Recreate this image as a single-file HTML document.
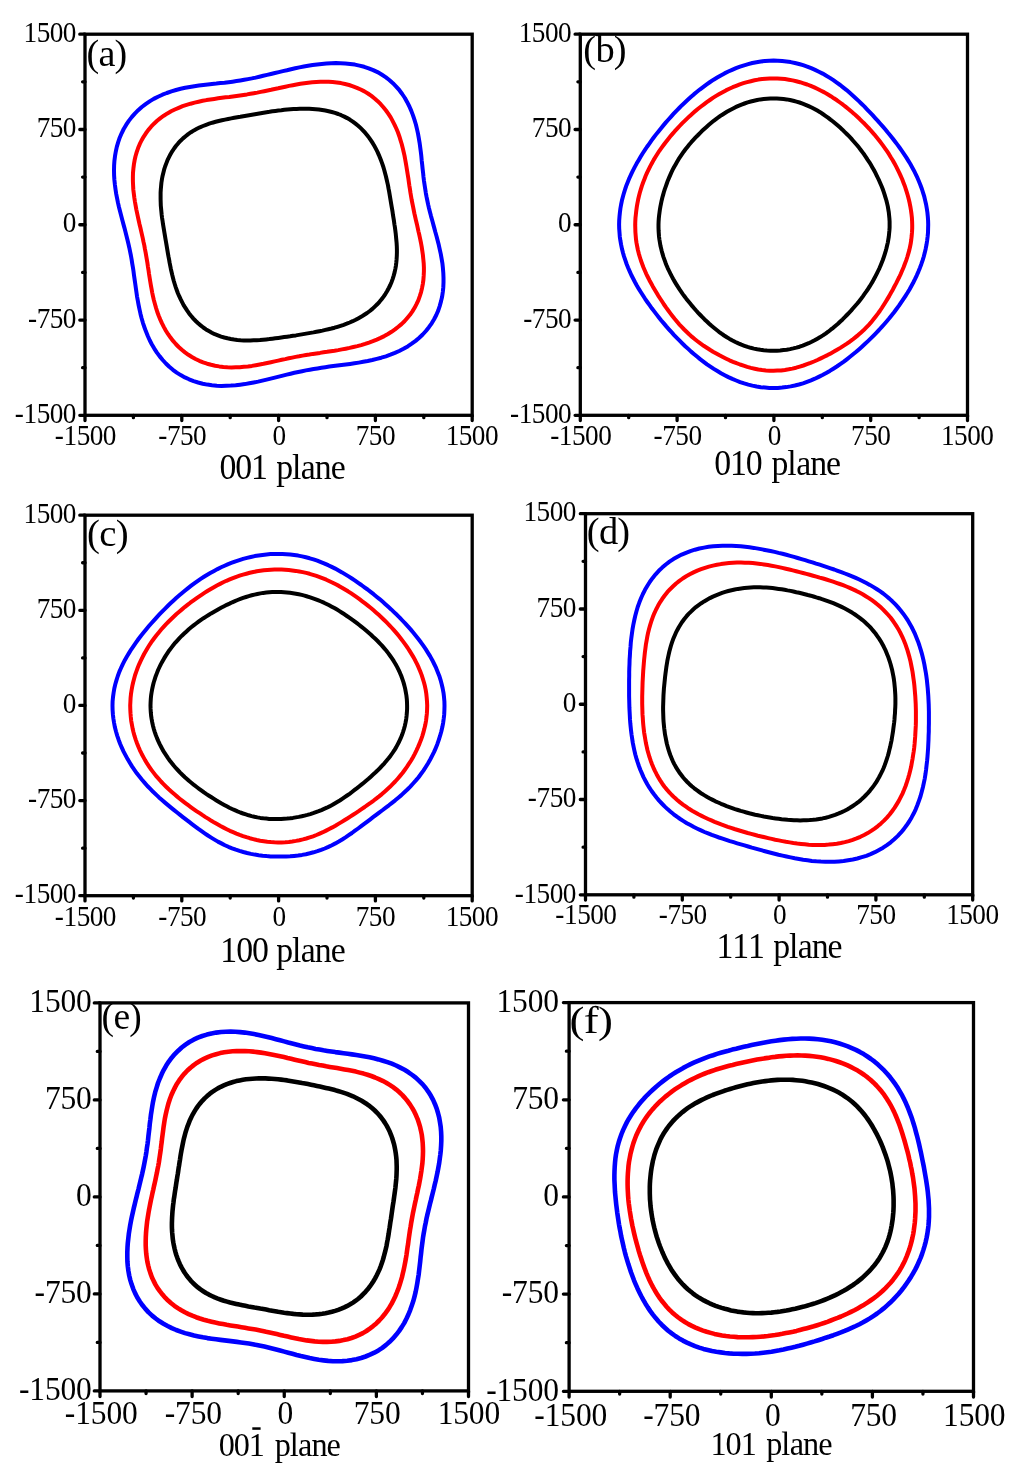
<!DOCTYPE html>
<html><head><meta charset="utf-8"><style>
html,body{margin:0;padding:0;background:#fff;width:1024px;height:1474px;overflow:hidden}
svg{display:block;will-change:transform}
text{font-family:"Liberation Serif",serif;fill:#000}
</style></head><body>
<svg width="1024" height="1474" viewBox="0 0 1024 1474">
<rect width="1024" height="1474" fill="#fff"/>
<path d="M433.2,224.1 L434.3,228.1 L435.4,232.3 L436.6,236.5 L437.7,240.8 L438.8,245.1 L439.8,249.6 L440.8,254.1 L441.6,258.7 L442.4,263.3 L442.9,268.0 L443.3,272.8 L443.5,277.6 L443.5,282.4 L443.3,287.2 L442.8,292.0 L442.1,296.7 L441.0,301.4 L439.7,306.1 L438.2,310.6 L436.3,315.0 L434.1,319.2 L431.7,323.3 L428.9,327.2 L425.9,331.0 L422.7,334.5 L419.3,337.8 L415.6,340.9 L411.7,343.7 L407.7,346.4 L403.5,348.8 L399.2,351.0 L394.9,352.9 L390.4,354.7 L385.9,356.3 L381.3,357.7 L376.8,358.9 L372.3,360.0 L367.7,361.0 L363.2,361.8 L358.8,362.6 L354.4,363.3 L350.1,363.9 L345.8,364.5 L341.6,365.0 L337.4,365.6 L333.3,366.1 L329.3,366.6 L325.3,367.2 L321.4,367.8 L317.5,368.4 L313.6,369.0 L309.8,369.7 L305.9,370.4 L302.1,371.2 L298.3,372.0 L294.4,372.8 L290.6,373.7 L286.7,374.6 L282.8,375.6 L278.8,376.6 L274.8,377.6 L270.7,378.6 L266.6,379.6 L262.4,380.6 L258.1,381.6 L253.7,382.5 L249.3,383.3 L244.8,384.1 L240.2,384.7 L235.6,385.2 L230.9,385.6 L226.2,385.8 L221.5,385.9 L216.8,385.7 L212.0,385.2 L207.3,384.6 L202.7,383.7 L198.1,382.5 L193.6,381.1 L189.1,379.3 L184.9,377.4 L180.7,375.1 L176.7,372.6 L172.9,369.8 L169.3,366.8 L165.9,363.5 L162.7,360.0 L159.7,356.4 L156.9,352.6 L154.3,348.6 L151.9,344.5 L149.7,340.3 L147.8,336.0 L146.0,331.6 L144.4,327.2 L142.9,322.8 L141.6,318.3 L140.5,313.9 L139.5,309.4 L138.6,305.0 L137.8,300.6 L137.0,296.3 L136.4,292.0 L135.8,287.7 L135.2,283.5 L134.6,279.4 L134.0,275.3 L133.5,271.3 L132.9,267.3 L132.2,263.3 L131.6,259.4 L130.9,255.5 L130.1,251.6 L129.3,247.7 L128.4,243.8 L127.5,240.0 L126.5,236.0 L125.5,232.1 L124.5,228.1 L123.4,224.1 L122.3,220.0 L121.2,215.8 L120.1,211.6 L119.0,207.3 L118.0,202.9 L117.1,198.4 L116.2,193.9 L115.5,189.3 L114.9,184.7 L114.4,180.0 L114.1,175.3 L114.0,170.5 L114.1,165.7 L114.4,161.0 L115.0,156.2 L115.8,151.5 L116.8,146.8 L118.2,142.2 L119.7,137.7 L121.6,133.3 L123.7,129.0 L126.1,124.9 L128.8,120.9 L131.7,117.1 L134.8,113.6 L138.2,110.2 L141.8,107.0 L145.6,104.1 L149.6,101.4 L153.7,98.9 L158.0,96.7 L162.4,94.7 L166.8,93.0 L171.4,91.4 L176.0,90.0 L180.6,88.8 L185.2,87.8 L189.8,87.0 L194.3,86.2 L198.8,85.6 L203.3,85.0 L207.7,84.5 L212.0,84.0 L216.3,83.6 L220.4,83.1 L224.5,82.7 L228.6,82.2 L232.5,81.7 L236.5,81.1 L240.3,80.5 L244.2,79.8 L248.0,79.1 L251.8,78.4 L255.6,77.6 L259.4,76.7 L263.2,75.8 L267.1,74.9 L270.9,74.0 L274.9,73.0 L278.8,72.1 L282.8,71.1 L286.9,70.2 L291.0,69.2 L295.2,68.3 L299.4,67.4 L303.8,66.5 L308.1,65.8 L312.6,65.0 L317.1,64.4 L321.7,63.9 L326.4,63.5 L331.1,63.2 L335.8,63.1 L340.6,63.2 L345.3,63.4 L350.1,63.9 L354.9,64.6 L359.5,65.6 L364.2,66.8 L368.7,68.3 L373.2,70.1 L377.5,72.1 L381.6,74.5 L385.6,77.1 L389.3,80.0 L392.9,83.2 L396.2,86.6 L399.4,90.2 L402.2,94.0 L404.9,98.0 L407.2,102.2 L409.4,106.5 L411.3,110.9 L413.0,115.4 L414.5,119.9 L415.9,124.5 L417.0,129.1 L418.0,133.7 L418.8,138.2 L419.6,142.8 L420.2,147.3 L420.8,151.7 L421.3,156.1 L421.7,160.4 L422.2,164.7 L422.6,168.8 L423.1,173.0 L423.5,177.0 L424.0,181.0 L424.6,185.0 L425.2,188.9 L425.8,192.8 L426.5,196.7 L427.3,200.5 L428.1,204.4 L429.0,208.3 L430.0,212.2 L431.0,216.1 L432.1,220.0Z" fill="none" stroke="#0000ff" stroke-width="4.0" stroke-linejoin="round"/>
<path d="M416.9,224.2 L417.7,227.9 L418.5,231.6 L419.4,235.3 L420.2,239.1 L421.0,243.0 L421.7,246.9 L422.3,250.9 L422.9,255.0 L423.3,259.1 L423.7,263.2 L423.9,267.4 L423.9,271.5 L423.7,275.7 L423.4,279.9 L422.8,284.1 L422.0,288.2 L421.0,292.3 L419.7,296.3 L418.3,300.3 L416.5,304.1 L414.6,307.8 L412.4,311.4 L410.0,314.8 L407.3,318.0 L404.5,321.2 L401.5,324.1 L398.3,326.8 L395.0,329.4 L391.5,331.8 L388.0,334.0 L384.3,336.1 L380.6,337.9 L376.8,339.6 L372.9,341.2 L369.0,342.6 L365.1,343.9 L361.2,345.1 L357.3,346.1 L353.4,347.0 L349.6,347.9 L345.7,348.7 L341.9,349.4 L338.2,350.1 L334.5,350.7 L330.8,351.2 L327.1,351.8 L323.5,352.3 L320.0,352.9 L316.4,353.4 L312.9,353.9 L309.4,354.5 L306.0,355.0 L302.5,355.6 L299.1,356.3 L295.6,356.9 L292.2,357.6 L288.7,358.3 L285.2,359.1 L281.7,359.8 L278.2,360.6 L274.6,361.4 L270.9,362.2 L267.2,363.0 L263.5,363.8 L259.7,364.5 L255.8,365.2 L251.9,365.9 L247.9,366.4 L243.9,366.8 L239.8,367.2 L235.8,367.3 L231.6,367.4 L227.5,367.2 L223.4,366.9 L219.2,366.4 L215.1,365.7 L211.1,364.8 L207.1,363.7 L203.1,362.4 L199.3,360.8 L195.5,359.0 L191.9,357.0 L188.4,354.8 L185.0,352.4 L181.8,349.8 L178.7,347.0 L175.8,344.0 L173.1,340.9 L170.5,337.6 L168.1,334.2 L165.9,330.7 L163.9,327.1 L162.0,323.4 L160.3,319.6 L158.7,315.8 L157.3,312.0 L156.1,308.1 L155.0,304.2 L153.9,300.3 L153.0,296.4 L152.2,292.6 L151.5,288.7 L150.8,284.9 L150.2,281.2 L149.6,277.5 L149.0,273.8 L148.5,270.1 L147.9,266.5 L147.4,262.9 L146.8,259.4 L146.2,255.9 L145.6,252.4 L144.9,248.9 L144.3,245.4 L143.5,241.9 L142.8,238.4 L142.0,234.9 L141.2,231.4 L140.4,227.8 L139.5,224.2 L138.7,220.5 L137.9,216.8 L137.1,213.1 L136.3,209.3 L135.6,205.4 L134.9,201.5 L134.3,197.5 L133.8,193.5 L133.3,189.4 L133.1,185.3 L132.9,181.2 L132.9,177.0 L133.0,172.8 L133.4,168.6 L133.9,164.4 L134.6,160.3 L135.5,156.2 L136.7,152.1 L138.1,148.1 L139.7,144.2 L141.5,140.5 L143.6,136.8 L145.9,133.3 L148.4,129.9 L151.1,126.7 L154.0,123.7 L157.1,120.8 L160.4,118.1 L163.8,115.7 L167.4,113.4 L171.1,111.3 L174.8,109.5 L178.7,107.8 L182.6,106.2 L186.6,104.9 L190.6,103.7 L194.6,102.6 L198.6,101.7 L202.6,100.8 L206.5,100.1 L210.4,99.5 L214.3,98.9 L218.1,98.3 L221.9,97.8 L225.6,97.3 L229.3,96.9 L232.9,96.4 L236.5,95.9 L240.0,95.4 L243.5,94.9 L247.0,94.4 L250.4,93.8 L253.9,93.2 L257.3,92.6 L260.7,91.9 L264.2,91.2 L267.6,90.5 L271.1,89.8 L274.6,89.0 L278.2,88.3 L281.7,87.5 L285.4,86.7 L289.0,85.9 L292.8,85.2 L296.5,84.5 L300.4,83.8 L304.3,83.2 L308.2,82.7 L312.2,82.3 L316.3,82.0 L320.3,81.8 L324.5,81.7 L328.6,81.8 L332.7,82.1 L336.8,82.5 L341.0,83.1 L345.0,84.0 L349.1,85.0 L353.0,86.3 L356.9,87.8 L360.7,89.5 L364.4,91.4 L367.9,93.5 L371.4,95.9 L374.6,98.5 L377.7,101.2 L380.7,104.2 L383.4,107.3 L386.0,110.5 L388.4,113.9 L390.7,117.4 L392.7,121.1 L394.6,124.8 L396.3,128.5 L397.9,132.3 L399.3,136.2 L400.5,140.1 L401.7,144.0 L402.7,147.9 L403.6,151.8 L404.5,155.6 L405.2,159.5 L405.9,163.3 L406.5,167.0 L407.1,170.8 L407.7,174.5 L408.3,178.1 L408.8,181.8 L409.3,185.3 L409.9,188.9 L410.4,192.4 L411.0,196.0 L411.6,199.5 L412.3,203.0 L413.0,206.4 L413.7,210.0 L414.4,213.5 L415.2,217.0 L416.0,220.6Z" fill="none" stroke="#ff0000" stroke-width="4.0" stroke-linejoin="round"/>
<path d="M394.4,224.2 L394.9,227.3 L395.3,230.3 L395.7,233.4 L396.0,236.6 L396.3,239.7 L396.6,242.9 L396.8,246.2 L396.9,249.4 L396.9,252.7 L396.8,256.0 L396.6,259.2 L396.3,262.5 L395.9,265.8 L395.3,269.1 L394.6,272.4 L393.7,275.6 L392.7,278.8 L391.6,281.9 L390.3,285.0 L388.8,288.0 L387.2,291.0 L385.5,293.8 L383.6,296.6 L381.6,299.3 L379.5,301.8 L377.2,304.3 L374.8,306.6 L372.4,308.9 L369.8,311.0 L367.1,313.0 L364.3,314.8 L361.5,316.6 L358.6,318.2 L355.7,319.8 L352.7,321.2 L349.7,322.5 L346.7,323.7 L343.7,324.8 L340.6,325.8 L337.5,326.8 L334.5,327.7 L331.5,328.5 L328.4,329.2 L325.4,329.9 L322.4,330.6 L319.4,331.2 L316.4,331.8 L313.5,332.4 L310.5,332.9 L307.6,333.4 L304.7,333.9 L301.8,334.4 L298.8,334.9 L295.9,335.4 L293.0,335.8 L290.1,336.3 L287.2,336.7 L284.2,337.1 L281.3,337.5 L278.3,337.9 L275.3,338.3 L272.3,338.7 L269.3,339.1 L266.2,339.4 L263.1,339.7 L260.0,340.0 L256.8,340.2 L253.6,340.3 L250.4,340.4 L247.2,340.5 L243.9,340.4 L240.6,340.2 L237.3,339.9 L234.1,339.5 L230.8,339.0 L227.5,338.3 L224.3,337.5 L221.1,336.6 L217.9,335.4 L214.8,334.2 L211.8,332.7 L208.9,331.1 L206.0,329.4 L203.3,327.5 L200.6,325.4 L198.1,323.3 L195.7,321.0 L193.4,318.6 L191.2,316.0 L189.1,313.4 L187.2,310.7 L185.4,307.9 L183.6,305.1 L182.1,302.2 L180.6,299.2 L179.2,296.2 L177.9,293.2 L176.8,290.2 L175.7,287.1 L174.7,284.0 L173.8,281.0 L173.0,277.9 L172.2,274.8 L171.5,271.8 L170.8,268.7 L170.2,265.7 L169.6,262.7 L169.1,259.7 L168.5,256.7 L168.0,253.8 L167.5,250.8 L167.0,247.9 L166.5,244.9 L166.0,242.0 L165.5,239.1 L165.0,236.1 L164.5,233.2 L164.0,230.2 L163.5,227.2 L163.0,224.2 L162.6,221.2 L162.1,218.1 L161.7,215.0 L161.4,211.9 L161.1,208.8 L160.8,205.6 L160.7,202.4 L160.6,199.2 L160.6,195.9 L160.6,192.7 L160.8,189.4 L161.1,186.1 L161.4,182.8 L161.9,179.5 L162.5,176.2 L163.3,173.0 L164.1,169.7 L165.1,166.5 L166.3,163.4 L167.5,160.2 L169.0,157.2 L170.5,154.2 L172.2,151.3 L174.1,148.5 L176.1,145.8 L178.3,143.2 L180.6,140.7 L183.0,138.4 L185.6,136.2 L188.2,134.1 L191.0,132.2 L193.9,130.4 L196.9,128.8 L199.9,127.3 L203.0,126.0 L206.1,124.8 L209.2,123.7 L212.4,122.7 L215.6,121.8 L218.7,121.0 L221.9,120.3 L225.0,119.6 L228.1,119.0 L231.2,118.4 L234.3,117.8 L237.3,117.3 L240.3,116.8 L243.2,116.2 L246.2,115.7 L249.1,115.2 L252.0,114.7 L254.9,114.2 L257.8,113.7 L260.7,113.2 L263.6,112.7 L266.6,112.2 L269.5,111.8 L272.4,111.3 L275.4,110.9 L278.3,110.5 L281.3,110.2 L284.3,109.8 L287.3,109.5 L290.4,109.3 L293.5,109.1 L296.6,108.9 L299.7,108.8 L302.9,108.7 L306.0,108.7 L309.2,108.8 L312.5,109.0 L315.7,109.2 L318.9,109.5 L322.2,110.0 L325.4,110.5 L328.6,111.2 L331.8,112.0 L335.0,112.9 L338.2,114.0 L341.2,115.2 L344.3,116.6 L347.2,118.1 L350.1,119.8 L352.8,121.6 L355.5,123.6 L358.1,125.7 L360.5,127.9 L362.9,130.3 L365.1,132.7 L367.2,135.3 L369.2,137.9 L371.1,140.6 L372.9,143.4 L374.6,146.3 L376.1,149.2 L377.6,152.1 L378.9,155.1 L380.1,158.1 L381.3,161.1 L382.4,164.1 L383.4,167.2 L384.3,170.2 L385.1,173.3 L385.9,176.3 L386.6,179.3 L387.3,182.4 L388.0,185.4 L388.5,188.4 L389.1,191.4 L389.6,194.4 L390.1,197.4 L390.6,200.3 L391.1,203.3 L391.6,206.3 L392.1,209.2 L392.6,212.2 L393.0,215.2 L393.5,218.2 L394.0,221.2Z" fill="none" stroke="#000000" stroke-width="4.0" stroke-linejoin="round"/>
<rect x="85.00" y="34.20" width="387.20" height="381.10" fill="none" stroke="#000" stroke-width="3.3"/>
<path d="M85.00,415.30V420.50M85.00,415.30H79.80M133.40,415.30V417.70M85.00,367.66H82.60M181.80,415.30V420.50M85.00,320.03H79.80M230.20,415.30V417.70M85.00,272.39H82.60M278.60,415.30V420.50M85.00,224.75H79.80M327.00,415.30V417.70M85.00,177.11H82.60M375.40,415.30V420.50M85.00,129.48H79.80M423.80,415.30V417.70M85.00,81.84H82.60M472.20,415.30V420.50M85.00,34.20H79.80" stroke="#000" stroke-width="3.3" stroke-linecap="round" fill="none"/>
<text transform="translate(54.84,445.10) scale(0.921,1)" x="0.00 9.47 23.69 37.92 52.14" y="0" font-size="29.6">-1500</text>
<text transform="translate(14.84,423.00) scale(0.921,1)" x="0.00 9.47 23.69 37.92 52.14" y="0" font-size="29.6">-1500</text>
<text transform="translate(158.19,445.10) scale(0.921,1)" x="0.00 9.47 23.69 37.92" y="0" font-size="29.6">-750</text>
<text transform="translate(27.94,327.73) scale(0.921,1)" x="0.00 9.47 23.69 37.92" y="0" font-size="29.6">-750</text>
<text transform="translate(272.38,445.10) scale(0.921,1)" x="0.00" y="0" font-size="29.6">0</text>
<text transform="translate(62.86,232.45) scale(0.921,1)" x="0.00" y="0" font-size="29.6">0</text>
<text transform="translate(355.75,445.10) scale(0.921,1)" x="0.00 14.22 28.44" y="0" font-size="29.6">750</text>
<text transform="translate(36.66,137.18) scale(0.921,1)" x="0.00 14.22 28.44" y="0" font-size="29.6">750</text>
<text transform="translate(445.66,445.10) scale(0.921,1)" x="0.00 14.22 28.44 42.66" y="0" font-size="29.6">1500</text>
<text transform="translate(23.57,41.90) scale(0.921,1)" x="0.00 14.22 28.44 42.66" y="0" font-size="29.6">1500</text>
<text transform="translate(219.45,479.20) scale(0.96,1)" x="0.00 16.45 32.89" y="0" font-size="35.2">001</text>
<text transform="translate(276.29,479.20) scale(0.96,1)" x="0.00 16.45 25.58 40.18 56.62" y="0" font-size="35.2">plane</text>
<text transform="translate(86.48,65.50) scale(0.9968172202548174,1)" x="0.00 12.10 28.24" y="0" font-size="38.3">(a)</text>
<path d="M928.2,224.6 L928.1,228.6 L928.0,232.7 L927.6,236.7 L927.1,240.7 L926.5,244.7 L925.7,248.7 L924.8,252.6 L923.8,256.5 L922.6,260.4 L921.3,264.2 L919.9,267.9 L918.4,271.6 L916.8,275.3 L915.1,278.9 L913.3,282.5 L911.4,286.0 L909.5,289.4 L907.5,292.8 L905.4,296.1 L903.2,299.4 L901.0,302.7 L898.8,305.9 L896.5,309.0 L894.1,312.2 L891.7,315.2 L889.3,318.3 L886.8,321.2 L884.2,324.2 L881.6,327.1 L879.0,330.0 L876.3,332.8 L873.6,335.6 L870.8,338.4 L868.0,341.1 L865.1,343.8 L862.2,346.5 L859.2,349.2 L856.2,351.8 L853.1,354.3 L850.0,356.8 L846.8,359.3 L843.5,361.8 L840.2,364.1 L836.8,366.5 L833.3,368.7 L829.8,370.9 L826.2,373.0 L822.5,375.0 L818.7,376.9 L814.9,378.7 L811.0,380.4 L807.0,381.9 L803.0,383.3 L798.9,384.5 L794.8,385.5 L790.6,386.4 L786.4,387.1 L782.1,387.6 L777.9,387.9 L773.6,388.0 L769.3,387.9 L765.1,387.6 L760.8,387.2 L756.6,386.5 L752.4,385.6 L748.3,384.6 L744.2,383.4 L740.1,382.1 L736.2,380.5 L732.3,378.9 L728.4,377.1 L724.7,375.2 L721.0,373.2 L717.4,371.1 L713.8,368.9 L710.4,366.6 L707.0,364.3 L703.7,361.8 L700.4,359.4 L697.3,356.8 L694.2,354.2 L691.1,351.6 L688.2,348.9 L685.2,346.2 L682.4,343.5 L679.6,340.7 L676.8,337.9 L674.1,335.1 L671.5,332.2 L668.9,329.3 L666.3,326.4 L663.8,323.4 L661.3,320.5 L658.9,317.5 L656.5,314.4 L654.2,311.4 L651.8,308.3 L649.6,305.2 L647.3,302.0 L645.1,298.8 L643.0,295.5 L640.9,292.2 L638.8,288.9 L636.8,285.5 L634.9,282.0 L633.1,278.5 L631.3,275.0 L629.7,271.4 L628.1,267.7 L626.6,264.0 L625.3,260.2 L624.0,256.4 L622.9,252.5 L621.9,248.6 L621.1,244.7 L620.4,240.7 L619.8,236.7 L619.5,232.7 L619.2,228.6 L619.1,224.6 L619.2,220.6 L619.5,216.5 L619.9,212.5 L620.4,208.5 L621.1,204.5 L621.9,200.6 L622.9,196.7 L624.0,192.8 L625.2,189.0 L626.5,185.2 L628.0,181.5 L629.5,177.8 L631.2,174.2 L632.9,170.6 L634.7,167.1 L636.6,163.6 L638.6,160.2 L640.6,156.8 L642.6,153.5 L644.8,150.2 L646.9,147.0 L649.2,143.8 L651.4,140.6 L653.7,137.5 L656.1,134.4 L658.5,131.4 L660.9,128.4 L663.4,125.4 L665.9,122.4 L668.5,119.5 L671.1,116.6 L673.7,113.7 L676.4,110.8 L679.2,108.0 L682.0,105.2 L684.9,102.5 L687.8,99.8 L690.8,97.1 L693.8,94.4 L697.0,91.8 L700.1,89.3 L703.4,86.8 L706.7,84.4 L710.1,82.0 L713.6,79.7 L717.2,77.5 L720.8,75.4 L724.5,73.4 L728.3,71.5 L732.1,69.8 L736.0,68.1 L740.0,66.6 L744.1,65.3 L748.2,64.1 L752.3,63.0 L756.5,62.2 L760.8,61.5 L765.0,61.0 L769.3,60.7 L773.6,60.6 L777.9,60.7 L782.2,61.0 L786.4,61.5 L790.7,62.1 L794.9,63.0 L799.0,64.0 L803.1,65.2 L807.2,66.6 L811.2,68.2 L815.1,69.9 L818.9,71.7 L822.7,73.6 L826.3,75.7 L829.9,77.9 L833.4,80.2 L836.8,82.6 L840.2,85.0 L843.4,87.6 L846.6,90.1 L849.7,92.8 L852.7,95.5 L855.7,98.2 L858.6,100.9 L861.5,103.7 L864.3,106.4 L867.0,109.3 L869.7,112.1 L872.4,114.9 L875.0,117.8 L877.6,120.6 L880.1,123.5 L882.7,126.4 L885.2,129.3 L887.6,132.3 L890.1,135.2 L892.5,138.2 L894.8,141.3 L897.2,144.4 L899.5,147.5 L901.7,150.6 L903.9,153.8 L906.1,157.1 L908.1,160.4 L910.2,163.8 L912.1,167.2 L914.0,170.7 L915.8,174.3 L917.5,177.9 L919.0,181.5 L920.5,185.2 L921.9,189.0 L923.1,192.8 L924.3,196.7 L925.2,200.6 L926.1,204.5 L926.8,208.5 L927.4,212.5 L927.8,216.5 L928.1,220.6Z" fill="none" stroke="#0000ff" stroke-width="4.0" stroke-linejoin="round"/>
<path d="M912.2,224.9 L912.2,228.5 L912.0,232.2 L911.7,235.8 L911.3,239.4 L910.8,243.0 L910.1,246.5 L909.3,250.1 L908.3,253.6 L907.3,257.0 L906.2,260.4 L904.9,263.8 L903.6,267.2 L902.2,270.5 L900.8,273.8 L899.3,277.0 L897.7,280.2 L896.1,283.4 L894.4,286.5 L892.8,289.7 L891.0,292.8 L889.3,295.9 L887.5,298.9 L885.6,302.0 L883.7,305.0 L881.8,308.0 L879.8,311.0 L877.7,313.9 L875.5,316.8 L873.3,319.6 L871.0,322.4 L868.6,325.1 L866.1,327.7 L863.5,330.3 L860.8,332.7 L858.1,335.1 L855.3,337.4 L852.4,339.7 L849.5,341.8 L846.5,343.9 L843.4,345.9 L840.3,347.9 L837.1,349.8 L834.0,351.6 L830.7,353.4 L827.5,355.1 L824.1,356.8 L820.8,358.4 L817.4,360.0 L814.0,361.5 L810.5,362.9 L807.0,364.2 L803.4,365.5 L799.8,366.6 L796.1,367.7 L792.4,368.6 L788.7,369.3 L784.9,369.9 L781.1,370.4 L777.3,370.6 L773.5,370.8 L769.7,370.7 L765.9,370.4 L762.1,370.0 L758.3,369.5 L754.6,368.7 L750.9,367.9 L747.2,366.9 L743.6,365.7 L740.0,364.5 L736.5,363.2 L733.0,361.8 L729.5,360.3 L726.2,358.7 L722.8,357.0 L719.5,355.3 L716.3,353.5 L713.0,351.7 L709.9,349.8 L706.8,347.8 L703.7,345.8 L700.7,343.7 L697.8,341.5 L694.9,339.2 L692.1,336.9 L689.4,334.5 L686.8,332.0 L684.2,329.5 L681.7,326.9 L679.2,324.3 L676.9,321.5 L674.6,318.8 L672.4,316.0 L670.2,313.1 L668.1,310.3 L666.0,307.4 L664.0,304.5 L662.1,301.5 L660.1,298.5 L658.2,295.6 L656.4,292.5 L654.6,289.5 L652.8,286.4 L651.1,283.3 L649.4,280.2 L647.8,277.0 L646.2,273.8 L644.8,270.5 L643.4,267.2 L642.1,263.8 L640.9,260.5 L639.8,257.0 L638.8,253.6 L637.9,250.0 L637.2,246.5 L636.5,242.9 L636.0,239.4 L635.7,235.8 L635.4,232.1 L635.3,228.5 L635.2,224.9 L635.3,221.3 L635.5,217.7 L635.9,214.1 L636.3,210.5 L636.8,206.9 L637.4,203.4 L638.1,199.8 L638.9,196.3 L639.8,192.8 L640.8,189.4 L641.9,185.9 L643.1,182.5 L644.4,179.2 L645.7,175.8 L647.1,172.6 L648.7,169.3 L650.3,166.1 L652.0,163.0 L653.7,159.9 L655.6,156.8 L657.5,153.8 L659.4,150.8 L661.5,147.9 L663.6,145.0 L665.7,142.2 L667.9,139.4 L670.2,136.6 L672.5,133.9 L674.8,131.2 L677.2,128.6 L679.6,126.0 L682.1,123.4 L684.7,120.9 L687.3,118.4 L689.9,115.9 L692.6,113.5 L695.3,111.1 L698.1,108.8 L701.0,106.5 L703.9,104.3 L706.8,102.1 L709.9,100.0 L712.9,97.9 L716.1,95.9 L719.3,94.0 L722.6,92.2 L725.9,90.4 L729.3,88.8 L732.7,87.2 L736.2,85.8 L739.8,84.4 L743.4,83.2 L747.1,82.1 L750.8,81.2 L754.5,80.3 L758.3,79.6 L762.1,79.1 L765.9,78.7 L769.7,78.5 L773.5,78.4 L777.4,78.5 L781.2,78.7 L785.0,79.1 L788.8,79.7 L792.6,80.4 L796.3,81.2 L800.0,82.2 L803.6,83.3 L807.2,84.5 L810.8,85.9 L814.3,87.4 L817.7,89.0 L821.1,90.7 L824.4,92.4 L827.6,94.3 L830.8,96.2 L833.9,98.3 L837.0,100.3 L840.0,102.5 L843.0,104.7 L845.8,106.9 L848.7,109.2 L851.4,111.5 L854.2,113.9 L856.8,116.3 L859.5,118.8 L862.0,121.3 L864.6,123.8 L867.0,126.4 L869.5,129.0 L871.8,131.6 L874.2,134.3 L876.4,137.0 L878.6,139.8 L880.8,142.6 L882.9,145.4 L885.0,148.3 L887.0,151.2 L889.0,154.2 L890.8,157.2 L892.7,160.2 L894.4,163.3 L896.1,166.4 L897.7,169.6 L899.3,172.8 L900.8,176.1 L902.2,179.3 L903.5,182.7 L904.8,186.0 L905.9,189.4 L907.0,192.9 L908.0,196.3 L908.9,199.8 L909.7,203.3 L910.4,206.9 L911.0,210.5 L911.5,214.1 L911.9,217.7 L912.1,221.3Z" fill="none" stroke="#ff0000" stroke-width="4.0" stroke-linejoin="round"/>
<path d="M889.6,224.5 L889.6,227.5 L889.4,230.5 L889.1,233.6 L888.8,236.6 L888.3,239.6 L887.8,242.6 L887.1,245.5 L886.4,248.5 L885.6,251.4 L884.7,254.3 L883.8,257.1 L882.8,260.0 L881.7,262.8 L880.6,265.5 L879.4,268.3 L878.1,271.0 L876.8,273.7 L875.4,276.4 L874.0,279.0 L872.6,281.6 L871.0,284.2 L869.5,286.7 L867.8,289.3 L866.2,291.7 L864.4,294.2 L862.7,296.6 L860.9,299.0 L859.0,301.4 L857.1,303.7 L855.1,306.0 L853.1,308.3 L851.1,310.6 L849.0,312.8 L846.9,315.0 L844.8,317.2 L842.6,319.4 L840.3,321.5 L838.0,323.7 L835.6,325.7 L833.2,327.8 L830.7,329.7 L828.2,331.7 L825.6,333.6 L822.9,335.4 L820.2,337.1 L817.4,338.7 L814.6,340.3 L811.7,341.8 L808.7,343.2 L805.7,344.4 L802.7,345.6 L799.6,346.7 L796.4,347.6 L793.2,348.4 L790.0,349.1 L786.7,349.7 L783.5,350.1 L780.2,350.5 L776.9,350.7 L773.6,350.8 L770.3,350.7 L767.0,350.5 L763.7,350.2 L760.4,349.8 L757.2,349.3 L753.9,348.6 L750.7,347.8 L747.6,346.9 L744.4,345.8 L741.4,344.7 L738.4,343.4 L735.4,342.0 L732.5,340.5 L729.6,338.9 L726.9,337.3 L724.1,335.5 L721.5,333.7 L718.9,331.8 L716.4,329.8 L713.9,327.8 L711.5,325.8 L709.2,323.7 L706.9,321.5 L704.6,319.4 L702.4,317.2 L700.3,315.0 L698.2,312.8 L696.1,310.5 L694.1,308.2 L692.1,305.9 L690.2,303.6 L688.3,301.3 L686.4,298.9 L684.6,296.5 L682.8,294.1 L681.1,291.7 L679.4,289.2 L677.8,286.7 L676.2,284.1 L674.7,281.6 L673.2,279.0 L671.8,276.4 L670.4,273.7 L669.1,271.0 L667.8,268.3 L666.6,265.5 L665.5,262.7 L664.5,259.9 L663.5,257.1 L662.6,254.2 L661.8,251.3 L661.1,248.4 L660.4,245.5 L659.9,242.5 L659.4,239.5 L659.0,236.5 L658.8,233.5 L658.6,230.5 L658.5,227.5 L658.5,224.5 L658.6,221.5 L658.8,218.5 L659.1,215.5 L659.5,212.5 L659.9,209.5 L660.4,206.6 L661.0,203.6 L661.6,200.7 L662.3,197.8 L663.1,194.9 L663.9,192.0 L664.8,189.1 L665.8,186.3 L666.8,183.5 L667.8,180.7 L669.0,177.9 L670.2,175.1 L671.4,172.4 L672.7,169.7 L674.1,167.0 L675.6,164.4 L677.1,161.8 L678.6,159.2 L680.3,156.7 L682.0,154.2 L683.7,151.7 L685.5,149.3 L687.4,146.9 L689.3,144.5 L691.3,142.2 L693.4,139.9 L695.4,137.7 L697.6,135.5 L699.7,133.3 L701.9,131.1 L704.2,129.0 L706.5,126.9 L708.9,124.8 L711.3,122.8 L713.7,120.8 L716.3,118.9 L718.8,117.0 L721.5,115.2 L724.2,113.5 L726.9,111.8 L729.7,110.2 L732.6,108.7 L735.5,107.2 L738.4,105.9 L741.5,104.6 L744.5,103.5 L747.6,102.4 L750.8,101.5 L754.0,100.7 L757.2,100.0 L760.4,99.4 L763.7,99.0 L767.0,98.7 L770.3,98.5 L773.6,98.4 L776.9,98.5 L780.2,98.7 L783.5,99.0 L786.7,99.4 L790.0,100.0 L793.2,100.7 L796.4,101.6 L799.5,102.5 L802.6,103.6 L805.6,104.8 L808.6,106.1 L811.6,107.5 L814.5,109.0 L817.3,110.6 L820.1,112.2 L822.8,114.0 L825.4,115.8 L828.0,117.6 L830.5,119.6 L833.0,121.5 L835.4,123.5 L837.8,125.6 L840.1,127.6 L842.4,129.7 L844.6,131.9 L846.8,134.0 L849.0,136.2 L851.1,138.4 L853.1,140.7 L855.1,143.0 L857.1,145.3 L859.0,147.6 L860.8,150.0 L862.6,152.4 L864.4,154.8 L866.1,157.3 L867.7,159.8 L869.4,162.3 L870.9,164.8 L872.4,167.4 L873.9,170.0 L875.3,172.7 L876.6,175.3 L877.9,178.0 L879.2,180.7 L880.4,183.5 L881.6,186.2 L882.7,189.0 L883.7,191.9 L884.6,194.7 L885.5,197.6 L886.4,200.5 L887.1,203.4 L887.8,206.4 L888.3,209.4 L888.8,212.4 L889.1,215.4 L889.4,218.4 L889.6,221.4Z" fill="none" stroke="#000000" stroke-width="4.0" stroke-linejoin="round"/>
<rect x="580.30" y="34.20" width="387.20" height="381.10" fill="none" stroke="#000" stroke-width="3.3"/>
<path d="M580.30,415.30V420.50M580.30,415.30H575.10M628.70,415.30V417.70M580.30,367.66H577.90M677.10,415.30V420.50M580.30,320.03H575.10M725.50,415.30V417.70M580.30,272.39H577.90M773.90,415.30V420.50M580.30,224.75H575.10M822.30,415.30V417.70M580.30,177.11H577.90M870.70,415.30V420.50M580.30,129.48H575.10M919.10,415.30V417.70M580.30,81.84H577.90M967.50,415.30V420.50M580.30,34.20H575.10" stroke="#000" stroke-width="3.3" stroke-linecap="round" fill="none"/>
<text transform="translate(550.14,445.10) scale(0.921,1)" x="0.00 9.47 23.69 37.92 52.14" y="0" font-size="29.6">-1500</text>
<text transform="translate(510.04,423.00) scale(0.921,1)" x="0.00 9.47 23.69 37.92 52.14" y="0" font-size="29.6">-1500</text>
<text transform="translate(653.49,445.10) scale(0.921,1)" x="0.00 9.47 23.69 37.92" y="0" font-size="29.6">-750</text>
<text transform="translate(523.14,327.73) scale(0.921,1)" x="0.00 9.47 23.69 37.92" y="0" font-size="29.6">-750</text>
<text transform="translate(767.68,445.10) scale(0.921,1)" x="0.00" y="0" font-size="29.6">0</text>
<text transform="translate(558.06,232.45) scale(0.921,1)" x="0.00" y="0" font-size="29.6">0</text>
<text transform="translate(851.05,445.10) scale(0.921,1)" x="0.00 14.22 28.44" y="0" font-size="29.6">750</text>
<text transform="translate(531.86,137.18) scale(0.921,1)" x="0.00 14.22 28.44" y="0" font-size="29.6">750</text>
<text transform="translate(940.96,445.10) scale(0.921,1)" x="0.00 14.22 28.44 42.66" y="0" font-size="29.6">1500</text>
<text transform="translate(518.77,41.90) scale(0.921,1)" x="0.00 14.22 28.44 42.66" y="0" font-size="29.6">1500</text>
<text transform="translate(714.25,475.20) scale(0.96,1)" x="0.00 16.45 32.89" y="0" font-size="35.2">010</text>
<text transform="translate(771.59,475.20) scale(0.96,1)" x="0.00 16.45 25.58 40.18 56.62" y="0" font-size="35.2">plane</text>
<text transform="translate(583.27,62.30) scale(1.0034957527187056,1)" x="0.00 12.10 30.28" y="0" font-size="38.3">(b)</text>
<path d="M444.5,705.7 L444.4,710.1 L444.2,714.4 L443.7,718.8 L443.1,723.1 L442.3,727.3 L441.3,731.5 L440.1,735.7 L438.8,739.8 L437.4,743.9 L435.8,747.9 L434.1,751.9 L432.2,755.7 L430.2,759.5 L428.1,763.2 L425.9,766.8 L423.6,770.4 L421.1,773.8 L418.6,777.2 L415.9,780.4 L413.1,783.5 L410.3,786.6 L407.4,789.5 L404.4,792.3 L401.4,795.1 L398.3,797.7 L395.2,800.3 L392.0,802.8 L388.9,805.3 L385.8,807.6 L382.7,810.0 L379.5,812.3 L376.5,814.6 L373.4,816.9 L370.3,819.3 L367.3,821.6 L364.2,823.9 L361.2,826.2 L358.1,828.5 L355.0,830.7 L351.9,833.0 L348.7,835.2 L345.5,837.4 L342.2,839.5 L338.8,841.5 L335.4,843.4 L331.9,845.2 L328.4,846.9 L324.8,848.5 L321.1,849.9 L317.4,851.2 L313.6,852.3 L309.8,853.3 L305.9,854.2 L302.0,854.9 L298.1,855.5 L294.2,855.9 L290.2,856.3 L286.3,856.5 L282.3,856.6 L278.4,856.6 L274.4,856.6 L270.5,856.4 L266.6,856.1 L262.6,855.7 L258.7,855.2 L254.8,854.6 L250.9,853.9 L247.1,853.0 L243.3,852.0 L239.5,850.9 L235.8,849.7 L232.1,848.3 L228.4,846.8 L224.9,845.2 L221.4,843.4 L217.9,841.6 L214.5,839.6 L211.2,837.6 L207.9,835.5 L204.7,833.3 L201.6,831.1 L198.4,828.9 L195.3,826.6 L192.3,824.3 L189.2,821.9 L186.2,819.6 L183.2,817.3 L180.1,814.9 L177.1,812.5 L174.1,810.1 L171.0,807.6 L168.0,805.1 L165.0,802.6 L162.0,800.0 L159.0,797.4 L156.1,794.6 L153.1,791.8 L150.3,788.9 L147.4,786.0 L144.7,782.9 L142.0,779.8 L139.4,776.6 L136.8,773.3 L134.4,769.9 L132.0,766.4 L129.8,762.8 L127.6,759.1 L125.6,755.4 L123.6,751.6 L121.8,747.7 L120.1,743.7 L118.6,739.7 L117.2,735.6 L116.0,731.5 L114.9,727.3 L114.1,723.0 L113.4,718.7 L112.9,714.4 L112.6,710.1 L112.5,705.7 L112.6,701.4 L113.0,697.1 L113.6,692.8 L114.3,688.5 L115.3,684.3 L116.5,680.1 L117.8,676.0 L119.3,671.9 L121.0,668.0 L122.8,664.1 L124.8,660.2 L126.9,656.5 L129.1,652.9 L131.3,649.3 L133.7,645.8 L136.1,642.4 L138.5,639.0 L141.0,635.7 L143.6,632.5 L146.1,629.4 L148.7,626.3 L151.4,623.2 L154.0,620.3 L156.7,617.3 L159.4,614.4 L162.1,611.6 L164.9,608.8 L167.7,606.0 L170.5,603.3 L173.3,600.7 L176.2,598.0 L179.1,595.5 L182.1,593.0 L185.1,590.5 L188.1,588.1 L191.2,585.7 L194.3,583.4 L197.5,581.1 L200.7,578.9 L204.0,576.8 L207.3,574.8 L210.7,572.8 L214.1,570.9 L217.5,569.1 L221.1,567.3 L224.6,565.7 L228.2,564.1 L231.9,562.7 L235.6,561.3 L239.4,560.1 L243.1,558.9 L247.0,557.9 L250.8,557.0 L254.7,556.1 L258.6,555.5 L262.5,554.9 L266.5,554.4 L270.4,554.1 L274.4,553.9 L278.4,553.9 L282.4,554.0 L286.3,554.2 L290.3,554.5 L294.2,555.0 L298.2,555.6 L302.1,556.4 L305.9,557.3 L309.7,558.3 L313.5,559.4 L317.3,560.7 L320.9,562.1 L324.6,563.6 L328.2,565.2 L331.7,566.9 L335.2,568.6 L338.6,570.5 L342.0,572.4 L345.3,574.4 L348.6,576.4 L351.9,578.5 L355.1,580.6 L358.2,582.8 L361.4,585.0 L364.5,587.3 L367.6,589.5 L370.6,591.9 L373.6,594.2 L376.6,596.7 L379.6,599.1 L382.5,601.6 L385.4,604.2 L388.3,606.8 L391.2,609.4 L394.0,612.1 L396.9,614.8 L399.7,617.6 L402.4,620.5 L405.2,623.4 L407.9,626.4 L410.6,629.4 L413.2,632.5 L415.8,635.7 L418.4,639.0 L420.9,642.3 L423.3,645.7 L425.7,649.2 L428.0,652.8 L430.2,656.4 L432.3,660.2 L434.2,664.0 L436.1,667.9 L437.7,671.9 L439.3,675.9 L440.6,680.1 L441.7,684.2 L442.7,688.5 L443.5,692.8 L444.0,697.1 L444.4,701.4Z" fill="none" stroke="#0000ff" stroke-width="4.0" stroke-linejoin="round"/>
<path d="M427.2,705.4 L427.1,709.3 L426.9,713.2 L426.5,717.1 L426.0,721.0 L425.3,724.8 L424.4,728.6 L423.4,732.4 L422.3,736.1 L421.0,739.8 L419.6,743.4 L418.1,746.9 L416.5,750.4 L414.8,753.9 L413.0,757.2 L411.1,760.5 L409.0,763.7 L406.9,766.9 L404.7,770.0 L402.5,773.0 L400.1,775.9 L397.7,778.7 L395.2,781.5 L392.6,784.2 L390.0,786.8 L387.3,789.3 L384.6,791.7 L381.9,794.1 L379.1,796.4 L376.2,798.6 L373.4,800.8 L370.5,802.9 L367.6,804.9 L364.7,807.0 L361.9,808.9 L359.0,810.9 L356.1,812.8 L353.1,814.7 L350.2,816.6 L347.3,818.5 L344.4,820.3 L341.4,822.1 L338.4,823.9 L335.4,825.7 L332.3,827.4 L329.2,829.0 L326.1,830.6 L322.9,832.2 L319.7,833.6 L316.4,835.0 L313.1,836.3 L309.7,837.4 L306.3,838.5 L302.9,839.4 L299.4,840.2 L295.9,840.9 L292.3,841.5 L288.8,841.9 L285.2,842.2 L281.6,842.4 L278.0,842.4 L274.4,842.3 L270.9,842.1 L267.3,841.7 L263.8,841.2 L260.2,840.7 L256.7,840.0 L253.2,839.1 L249.8,838.2 L246.4,837.2 L243.0,836.1 L239.7,834.9 L236.4,833.6 L233.1,832.2 L229.9,830.8 L226.7,829.2 L223.6,827.6 L220.5,826.0 L217.5,824.3 L214.4,822.6 L211.4,820.8 L208.5,818.9 L205.5,817.1 L202.6,815.2 L199.7,813.2 L196.8,811.3 L193.9,809.3 L191.1,807.3 L188.2,805.2 L185.4,803.1 L182.5,800.9 L179.7,798.7 L176.9,796.4 L174.2,794.1 L171.5,791.7 L168.8,789.3 L166.1,786.7 L163.5,784.1 L161.0,781.5 L158.5,778.7 L156.0,775.9 L153.7,772.9 L151.4,769.9 L149.3,766.8 L147.2,763.7 L145.2,760.4 L143.4,757.1 L141.6,753.7 L139.9,750.3 L138.4,746.8 L137.0,743.2 L135.7,739.6 L134.5,735.9 L133.5,732.2 L132.6,728.5 L131.9,724.7 L131.2,720.8 L130.8,717.0 L130.5,713.2 L130.3,709.3 L130.2,705.4 L130.4,701.6 L130.6,697.7 L131.0,693.9 L131.6,690.0 L132.3,686.2 L133.1,682.5 L134.1,678.7 L135.1,675.0 L136.4,671.4 L137.7,667.8 L139.1,664.3 L140.7,660.8 L142.4,657.4 L144.1,654.0 L146.0,650.7 L147.9,647.5 L149.9,644.3 L152.0,641.2 L154.2,638.2 L156.5,635.2 L158.8,632.4 L161.2,629.5 L163.6,626.8 L166.1,624.1 L168.7,621.5 L171.3,619.0 L173.9,616.5 L176.5,614.0 L179.2,611.7 L182.0,609.4 L184.7,607.1 L187.5,604.9 L190.3,602.7 L193.2,600.6 L196.0,598.6 L198.9,596.6 L201.9,594.6 L204.8,592.7 L207.8,590.8 L210.8,589.0 L213.9,587.2 L216.9,585.5 L220.1,583.9 L223.2,582.3 L226.4,580.8 L229.7,579.4 L232.9,578.1 L236.3,576.8 L239.6,575.7 L243.0,574.6 L246.4,573.7 L249.8,572.8 L253.3,572.0 L256.8,571.3 L260.3,570.8 L263.8,570.3 L267.4,570.0 L270.9,569.7 L274.5,569.6 L278.0,569.5 L281.6,569.6 L285.1,569.7 L288.7,570.0 L292.2,570.4 L295.7,570.9 L299.3,571.5 L302.7,572.1 L306.2,572.9 L309.6,573.8 L313.0,574.8 L316.4,575.9 L319.7,577.1 L323.0,578.4 L326.3,579.7 L329.5,581.2 L332.7,582.7 L335.8,584.3 L338.9,585.9 L342.0,587.7 L345.0,589.5 L348.0,591.3 L350.9,593.2 L353.8,595.2 L356.7,597.2 L359.5,599.2 L362.3,601.3 L365.1,603.4 L367.9,605.6 L370.6,607.8 L373.3,610.1 L376.0,612.4 L378.7,614.8 L381.3,617.2 L383.9,619.7 L386.4,622.2 L389.0,624.8 L391.5,627.5 L393.9,630.2 L396.3,632.9 L398.7,635.8 L401.0,638.7 L403.2,641.6 L405.4,644.7 L407.6,647.7 L409.6,650.9 L411.6,654.1 L413.6,657.4 L415.4,660.8 L417.1,664.2 L418.7,667.7 L420.2,671.3 L421.6,674.9 L422.8,678.6 L423.9,682.3 L424.9,686.1 L425.7,689.9 L426.3,693.8 L426.7,697.6 L427.0,701.5Z" fill="none" stroke="#ff0000" stroke-width="4.0" stroke-linejoin="round"/>
<path d="M407.1,705.6 L407.1,709.0 L406.9,712.3 L406.6,715.7 L406.2,719.1 L405.6,722.4 L404.9,725.7 L404.0,728.9 L403.0,732.1 L401.9,735.3 L400.6,738.4 L399.2,741.5 L397.7,744.4 L396.1,747.4 L394.4,750.2 L392.5,753.0 L390.6,755.7 L388.6,758.3 L386.5,760.8 L384.4,763.3 L382.2,765.7 L380.0,768.0 L377.7,770.3 L375.4,772.5 L373.1,774.6 L370.8,776.7 L368.5,778.8 L366.1,780.8 L363.8,782.7 L361.4,784.6 L359.1,786.5 L356.7,788.4 L354.3,790.2 L352.0,792.0 L349.6,793.8 L347.1,795.5 L344.7,797.2 L342.2,798.9 L339.8,800.5 L337.2,802.0 L334.7,803.5 L332.1,805.0 L329.5,806.4 L326.8,807.7 L324.1,808.9 L321.4,810.1 L318.7,811.2 L315.9,812.2 L313.1,813.2 L310.3,814.1 L307.4,814.9 L304.6,815.6 L301.7,816.3 L298.8,816.9 L295.8,817.4 L292.9,817.9 L290.0,818.3 L287.0,818.6 L284.1,818.8 L281.1,819.0 L278.1,819.1 L275.2,819.1 L272.2,819.0 L269.2,818.9 L266.3,818.6 L263.3,818.3 L260.3,817.9 L257.4,817.4 L254.5,816.8 L251.6,816.1 L248.7,815.3 L245.9,814.4 L243.1,813.5 L240.3,812.5 L237.5,811.4 L234.8,810.2 L232.1,809.0 L229.4,807.7 L226.8,806.3 L224.2,804.9 L221.6,803.5 L219.0,802.0 L216.5,800.5 L214.0,798.9 L211.5,797.3 L209.0,795.7 L206.5,794.1 L204.0,792.4 L201.6,790.6 L199.1,788.8 L196.7,787.0 L194.3,785.2 L191.9,783.2 L189.5,781.3 L187.2,779.2 L184.9,777.2 L182.6,775.0 L180.4,772.8 L178.2,770.5 L176.0,768.2 L173.9,765.8 L171.9,763.3 L169.9,760.7 L168.0,758.1 L166.2,755.4 L164.4,752.7 L162.7,749.9 L161.2,747.0 L159.7,744.1 L158.3,741.1 L157.0,738.1 L155.8,735.0 L154.7,731.8 L153.7,728.6 L152.9,725.4 L152.2,722.2 L151.6,718.9 L151.1,715.6 L150.8,712.3 L150.6,708.9 L150.5,705.6 L150.6,702.3 L150.8,698.9 L151.1,695.6 L151.6,692.3 L152.2,689.0 L152.9,685.8 L153.7,682.5 L154.7,679.3 L155.7,676.2 L156.9,673.1 L158.1,670.0 L159.5,667.0 L160.9,664.1 L162.5,661.2 L164.1,658.4 L165.8,655.6 L167.6,652.9 L169.4,650.2 L171.4,647.6 L173.4,645.1 L175.4,642.6 L177.5,640.3 L179.7,637.9 L181.9,635.7 L184.2,633.5 L186.5,631.4 L188.8,629.3 L191.2,627.3 L193.6,625.4 L196.1,623.5 L198.5,621.7 L201.0,619.9 L203.5,618.2 L206.0,616.6 L208.6,615.0 L211.1,613.4 L213.7,611.9 L216.3,610.4 L218.9,608.9 L221.5,607.5 L224.1,606.2 L226.8,604.8 L229.5,603.6 L232.2,602.3 L234.9,601.1 L237.6,600.0 L240.4,598.9 L243.1,597.9 L246.0,597.0 L248.8,596.1 L251.7,595.3 L254.5,594.6 L257.4,594.0 L260.4,593.4 L263.3,592.9 L266.3,592.6 L269.2,592.3 L272.2,592.1 L275.2,592.0 L278.1,592.0 L281.1,592.0 L284.1,592.2 L287.0,592.4 L290.0,592.8 L292.9,593.2 L295.9,593.7 L298.8,594.3 L301.7,594.9 L304.5,595.6 L307.4,596.5 L310.2,597.3 L313.0,598.3 L315.8,599.3 L318.5,600.4 L321.2,601.5 L323.9,602.7 L326.6,604.0 L329.2,605.3 L331.8,606.7 L334.4,608.1 L337.0,609.6 L339.5,611.1 L342.0,612.7 L344.5,614.3 L346.9,616.0 L349.3,617.6 L351.8,619.4 L354.2,621.1 L356.6,622.9 L359.0,624.8 L361.3,626.6 L363.7,628.5 L366.1,630.5 L368.4,632.5 L370.7,634.5 L373.0,636.7 L375.3,638.8 L377.6,641.0 L379.8,643.3 L382.0,645.6 L384.1,648.1 L386.2,650.5 L388.2,653.1 L390.1,655.7 L392.0,658.4 L393.8,661.2 L395.5,664.0 L397.1,666.9 L398.6,669.9 L400.0,672.9 L401.3,676.0 L402.4,679.2 L403.5,682.4 L404.4,685.6 L405.2,688.9 L405.8,692.2 L406.4,695.5 L406.8,698.9 L407.0,702.2Z" fill="none" stroke="#000000" stroke-width="4.0" stroke-linejoin="round"/>
<rect x="85.00" y="515.20" width="387.20" height="380.50" fill="none" stroke="#000" stroke-width="3.3"/>
<path d="M85.00,895.70V900.90M85.00,895.70H79.80M133.40,895.70V898.10M85.00,848.14H82.60M181.80,895.70V900.90M85.00,800.58H79.80M230.20,895.70V898.10M85.00,753.01H82.60M278.60,895.70V900.90M85.00,705.45H79.80M327.00,895.70V898.10M85.00,657.89H82.60M375.40,895.70V900.90M85.00,610.33H79.80M423.80,895.70V898.10M85.00,562.76H82.60M472.20,895.70V900.90M85.00,515.20H79.80" stroke="#000" stroke-width="3.3" stroke-linecap="round" fill="none"/>
<text transform="translate(54.84,925.50) scale(0.921,1)" x="0.00 9.47 23.69 37.92 52.14" y="0" font-size="29.6">-1500</text>
<text transform="translate(14.84,903.40) scale(0.921,1)" x="0.00 9.47 23.69 37.92 52.14" y="0" font-size="29.6">-1500</text>
<text transform="translate(158.19,925.50) scale(0.921,1)" x="0.00 9.47 23.69 37.92" y="0" font-size="29.6">-750</text>
<text transform="translate(27.94,808.28) scale(0.921,1)" x="0.00 9.47 23.69 37.92" y="0" font-size="29.6">-750</text>
<text transform="translate(272.38,925.50) scale(0.921,1)" x="0.00" y="0" font-size="29.6">0</text>
<text transform="translate(62.86,713.15) scale(0.921,1)" x="0.00" y="0" font-size="29.6">0</text>
<text transform="translate(355.75,925.50) scale(0.921,1)" x="0.00 14.22 28.44" y="0" font-size="29.6">750</text>
<text transform="translate(36.66,618.03) scale(0.921,1)" x="0.00 14.22 28.44" y="0" font-size="29.6">750</text>
<text transform="translate(445.66,925.50) scale(0.921,1)" x="0.00 14.22 28.44 42.66" y="0" font-size="29.6">1500</text>
<text transform="translate(23.57,522.90) scale(0.921,1)" x="0.00 14.22 28.44 42.66" y="0" font-size="29.6">1500</text>
<text transform="translate(220.36,962.20) scale(0.96,1)" x="0.00 16.45 32.89" y="0" font-size="35.2">100</text>
<text transform="translate(276.29,962.20) scale(0.96,1)" x="0.00 16.45 25.58 40.18 56.62" y="0" font-size="35.2">plane</text>
<text transform="translate(87.05,546.10) scale(1.0127662957788948,1)" x="0.00 12.10 28.24" y="0" font-size="38.3">(c)</text>
<path d="M928.7,703.8 L928.8,707.7 L928.9,711.7 L928.9,715.6 L928.9,719.6 L928.9,723.6 L928.8,727.6 L928.8,731.6 L928.6,735.7 L928.5,739.8 L928.3,743.9 L928.1,748.1 L927.8,752.3 L927.5,756.5 L927.1,760.8 L926.6,765.1 L926.1,769.5 L925.5,773.9 L924.8,778.3 L923.9,782.7 L922.9,787.2 L921.8,791.6 L920.6,796.0 L919.1,800.4 L917.5,804.8 L915.8,809.1 L913.8,813.3 L911.6,817.4 L909.2,821.5 L906.6,825.3 L903.8,829.1 L900.8,832.7 L897.6,836.1 L894.2,839.3 L890.7,842.3 L886.9,845.1 L883.1,847.7 L879.0,850.0 L874.9,852.2 L870.6,854.1 L866.3,855.8 L861.8,857.2 L857.3,858.5 L852.8,859.5 L848.2,860.3 L843.6,861.0 L839.0,861.4 L834.4,861.7 L829.9,861.8 L825.3,861.8 L820.8,861.6 L816.3,861.3 L811.9,860.9 L807.5,860.3 L803.2,859.7 L799.0,859.0 L794.8,858.3 L790.6,857.4 L786.5,856.5 L782.5,855.6 L778.5,854.7 L774.6,853.7 L770.7,852.7 L766.9,851.7 L763.1,850.7 L759.3,849.6 L755.6,848.6 L751.9,847.6 L748.2,846.5 L744.5,845.4 L740.9,844.4 L737.2,843.3 L733.6,842.2 L729.9,841.1 L726.3,839.9 L722.6,838.7 L719.0,837.5 L715.4,836.2 L711.8,834.9 L708.1,833.4 L704.5,832.0 L701.0,830.4 L697.4,828.7 L693.9,827.0 L690.4,825.1 L686.9,823.2 L683.5,821.1 L680.2,819.0 L676.9,816.7 L673.7,814.3 L670.6,811.8 L667.5,809.1 L664.6,806.4 L661.8,803.5 L659.1,800.6 L656.5,797.5 L654.0,794.3 L651.6,791.0 L649.4,787.7 L647.3,784.2 L645.4,780.7 L643.5,777.1 L641.9,773.4 L640.3,769.7 L638.9,766.0 L637.6,762.2 L636.4,758.4 L635.3,754.5 L634.4,750.6 L633.6,746.8 L632.8,742.9 L632.2,738.9 L631.6,735.0 L631.1,731.1 L630.7,727.2 L630.3,723.3 L630.0,719.4 L629.8,715.5 L629.6,711.6 L629.4,707.7 L629.3,703.8 L629.2,699.9 L629.1,696.0 L629.1,692.0 L629.1,688.1 L629.1,684.1 L629.1,680.1 L629.2,676.1 L629.2,672.1 L629.3,668.0 L629.5,663.9 L629.6,659.7 L629.9,655.5 L630.1,651.3 L630.5,647.0 L630.8,642.6 L631.3,638.3 L631.9,633.8 L632.5,629.4 L633.3,624.9 L634.2,620.5 L635.2,616.0 L636.4,611.5 L637.7,607.0 L639.3,602.6 L641.0,598.3 L642.9,594.0 L645.0,589.8 L647.4,585.7 L649.9,581.7 L652.7,577.9 L655.6,574.3 L658.8,570.8 L662.2,567.6 L665.8,564.5 L669.5,561.7 L673.4,559.1 L677.5,556.8 L681.7,554.6 L686.0,552.8 L690.4,551.1 L694.9,549.7 L699.4,548.5 L704.0,547.6 L708.6,546.8 L713.3,546.3 L717.9,545.9 L722.5,545.7 L727.2,545.7 L731.7,545.8 L736.2,546.0 L740.7,546.3 L745.2,546.8 L749.5,547.3 L753.8,547.9 L758.1,548.6 L762.3,549.4 L766.4,550.2 L770.5,551.0 L774.6,551.9 L778.5,552.9 L782.5,553.8 L786.3,554.8 L790.2,555.9 L794.0,556.9 L797.7,558.0 L801.5,559.1 L805.2,560.2 L808.8,561.3 L812.5,562.4 L816.1,563.6 L819.7,564.7 L823.3,565.9 L827.0,567.1 L830.6,568.3 L834.2,569.5 L837.7,570.8 L841.3,572.1 L844.9,573.5 L848.5,574.9 L852.1,576.3 L855.7,577.9 L859.3,579.5 L862.8,581.2 L866.3,583.0 L869.8,584.9 L873.2,586.9 L876.6,589.0 L879.9,591.2 L883.2,593.5 L886.3,596.0 L889.4,598.6 L892.3,601.3 L895.2,604.2 L897.9,607.1 L900.5,610.2 L903.0,613.4 L905.3,616.7 L907.6,620.0 L909.6,623.5 L911.6,627.0 L913.4,630.6 L915.1,634.2 L916.6,637.9 L918.1,641.7 L919.4,645.5 L920.6,649.3 L921.7,653.1 L922.7,657.0 L923.6,660.8 L924.4,664.7 L925.1,668.6 L925.8,672.5 L926.4,676.4 L926.9,680.3 L927.3,684.2 L927.7,688.1 L928.0,692.0 L928.3,696.0 L928.5,699.9Z" fill="none" stroke="#0000ff" stroke-width="4.0" stroke-linejoin="round"/>
<path d="M915.7,703.7 L915.8,707.3 L915.9,710.9 L915.9,714.5 L915.9,718.1 L915.9,721.7 L915.8,725.4 L915.6,729.0 L915.4,732.7 L915.2,736.4 L914.9,740.2 L914.6,743.9 L914.2,747.7 L913.7,751.5 L913.1,755.3 L912.5,759.1 L911.8,762.9 L911.1,766.8 L910.2,770.6 L909.2,774.5 L908.1,778.4 L906.9,782.2 L905.6,786.0 L904.1,789.8 L902.5,793.6 L900.7,797.2 L898.8,800.9 L896.7,804.4 L894.5,807.9 L892.1,811.2 L889.6,814.5 L886.9,817.6 L884.0,820.6 L881.0,823.4 L877.9,826.1 L874.6,828.6 L871.2,830.9 L867.7,833.1 L864.1,835.0 L860.4,836.8 L856.6,838.4 L852.7,839.8 L848.8,841.1 L844.8,842.1 L840.8,843.0 L836.8,843.7 L832.7,844.2 L828.7,844.6 L824.7,844.9 L820.6,845.0 L816.6,845.0 L812.7,844.9 L808.7,844.7 L804.8,844.3 L801.0,843.9 L797.2,843.5 L793.4,843.0 L789.7,842.4 L786.0,841.8 L782.4,841.1 L778.8,840.4 L775.2,839.7 L771.7,838.9 L768.2,838.1 L764.7,837.3 L761.3,836.5 L757.9,835.7 L754.5,834.8 L751.1,833.9 L747.7,833.0 L744.4,832.0 L741.0,831.0 L737.7,830.0 L734.4,829.0 L731.1,827.9 L727.8,826.8 L724.5,825.6 L721.2,824.4 L717.9,823.1 L714.6,821.8 L711.4,820.4 L708.1,819.0 L704.9,817.5 L701.6,815.9 L698.4,814.3 L695.3,812.5 L692.1,810.7 L689.0,808.8 L686.0,806.7 L683.0,804.6 L680.1,802.4 L677.2,800.0 L674.5,797.6 L671.8,795.0 L669.3,792.3 L666.9,789.6 L664.5,786.7 L662.3,783.7 L660.3,780.6 L658.4,777.5 L656.6,774.2 L654.9,770.9 L653.4,767.6 L652.0,764.2 L650.7,760.7 L649.5,757.2 L648.5,753.7 L647.5,750.2 L646.7,746.6 L645.9,743.0 L645.3,739.5 L644.7,735.9 L644.1,732.3 L643.7,728.7 L643.3,725.1 L643.0,721.6 L642.8,718.0 L642.5,714.4 L642.4,710.8 L642.3,707.3 L642.2,703.7 L642.2,700.1 L642.2,696.5 L642.3,692.9 L642.4,689.3 L642.5,685.7 L642.6,682.1 L642.8,678.5 L643.0,674.8 L643.2,671.1 L643.5,667.4 L643.8,663.7 L644.1,659.9 L644.5,656.1 L644.9,652.3 L645.4,648.4 L645.9,644.5 L646.6,640.6 L647.3,636.7 L648.1,632.7 L649.1,628.8 L650.2,624.9 L651.4,621.0 L652.8,617.1 L654.3,613.3 L656.1,609.5 L658.0,605.8 L660.0,602.3 L662.3,598.8 L664.7,595.5 L667.3,592.2 L670.1,589.2 L673.1,586.3 L676.1,583.5 L679.4,580.9 L682.7,578.5 L686.2,576.3 L689.8,574.3 L693.5,572.4 L697.3,570.7 L701.1,569.2 L705.0,567.8 L708.9,566.6 L712.9,565.6 L716.9,564.8 L720.9,564.1 L725.0,563.5 L729.0,563.1 L733.0,562.8 L737.0,562.6 L741.0,562.6 L744.9,562.7 L748.8,562.8 L752.7,563.1 L756.6,563.5 L760.4,563.9 L764.1,564.5 L767.9,565.1 L771.5,565.7 L775.2,566.4 L778.8,567.1 L782.3,567.9 L785.8,568.7 L789.3,569.5 L792.8,570.4 L796.2,571.2 L799.6,572.1 L803.0,573.0 L806.4,573.9 L809.7,574.8 L813.1,575.7 L816.4,576.6 L819.7,577.6 L823.1,578.5 L826.4,579.5 L829.8,580.6 L833.1,581.7 L836.4,582.8 L839.8,584.0 L843.1,585.2 L846.4,586.5 L849.7,587.9 L853.0,589.4 L856.3,590.9 L859.5,592.6 L862.7,594.3 L865.8,596.2 L868.9,598.1 L871.9,600.2 L874.9,602.4 L877.8,604.7 L880.5,607.1 L883.2,609.6 L885.8,612.3 L888.3,615.0 L890.7,617.8 L892.9,620.8 L895.0,623.8 L897.0,626.9 L898.9,630.1 L900.6,633.3 L902.2,636.6 L903.7,640.0 L905.1,643.4 L906.3,646.9 L907.5,650.4 L908.5,653.9 L909.5,657.4 L910.4,660.9 L911.1,664.5 L911.8,668.0 L912.5,671.6 L913.0,675.1 L913.5,678.7 L914.0,682.3 L914.4,685.8 L914.7,689.4 L915.0,693.0 L915.3,696.5 L915.5,700.1Z" fill="none" stroke="#ff0000" stroke-width="4.0" stroke-linejoin="round"/>
<path d="M895.4,703.9 L895.3,707.0 L895.1,710.0 L895.0,713.1 L894.7,716.1 L894.5,719.2 L894.2,722.2 L893.8,725.3 L893.4,728.3 L893.0,731.4 L892.5,734.5 L892.0,737.5 L891.5,740.6 L890.8,743.7 L890.2,746.8 L889.4,749.8 L888.7,752.9 L887.8,756.0 L886.8,759.1 L885.8,762.1 L884.7,765.2 L883.5,768.2 L882.2,771.2 L880.7,774.1 L879.2,777.0 L877.6,779.9 L875.9,782.7 L874.0,785.4 L872.0,788.1 L870.0,790.6 L867.8,793.1 L865.5,795.5 L863.2,797.8 L860.7,800.1 L858.2,802.2 L855.5,804.2 L852.8,806.0 L850.0,807.8 L847.2,809.5 L844.2,811.0 L841.2,812.4 L838.2,813.7 L835.1,814.9 L832.0,815.9 L828.9,816.9 L825.7,817.7 L822.5,818.4 L819.3,818.9 L816.1,819.4 L812.9,819.8 L809.7,820.1 L806.5,820.2 L803.4,820.3 L800.2,820.4 L797.0,820.3 L793.9,820.2 L790.8,820.0 L787.7,819.8 L784.7,819.5 L781.6,819.2 L778.6,818.8 L775.6,818.4 L772.6,818.0 L769.7,817.5 L766.7,817.0 L763.8,816.5 L760.9,815.9 L758.0,815.3 L755.1,814.7 L752.2,814.0 L749.3,813.3 L746.4,812.5 L743.6,811.7 L740.7,810.9 L737.9,810.0 L735.0,809.1 L732.2,808.1 L729.4,807.1 L726.6,806.1 L723.8,804.9 L721.0,803.8 L718.2,802.5 L715.4,801.3 L712.7,799.9 L709.9,798.5 L707.2,797.0 L704.5,795.4 L701.9,793.8 L699.3,792.0 L696.8,790.2 L694.3,788.3 L691.8,786.3 L689.5,784.2 L687.3,782.0 L685.1,779.7 L683.0,777.3 L681.1,774.8 L679.2,772.2 L677.5,769.6 L675.8,766.9 L674.3,764.1 L672.9,761.3 L671.7,758.4 L670.5,755.5 L669.4,752.5 L668.5,749.6 L667.6,746.5 L666.8,743.5 L666.2,740.5 L665.6,737.4 L665.0,734.4 L664.6,731.3 L664.2,728.2 L663.9,725.2 L663.6,722.1 L663.4,719.1 L663.3,716.1 L663.2,713.0 L663.1,710.0 L663.1,707.0 L663.2,703.9 L663.3,700.9 L663.4,697.9 L663.5,694.9 L663.7,691.9 L663.9,688.8 L664.2,685.8 L664.5,682.8 L664.8,679.7 L665.1,676.7 L665.5,673.6 L665.9,670.5 L666.3,667.4 L666.8,664.3 L667.3,661.2 L667.9,658.1 L668.6,654.9 L669.3,651.8 L670.1,648.7 L671.0,645.5 L672.0,642.4 L673.1,639.3 L674.4,636.2 L675.7,633.2 L677.2,630.2 L678.8,627.3 L680.5,624.5 L682.3,621.7 L684.3,619.0 L686.4,616.4 L688.6,613.9 L691.0,611.6 L693.4,609.3 L695.9,607.1 L698.6,605.1 L701.3,603.2 L704.1,601.4 L707.0,599.7 L709.9,598.1 L712.9,596.6 L715.9,595.3 L719.0,594.1 L722.1,592.9 L725.2,591.9 L728.3,591.0 L731.5,590.2 L734.7,589.5 L737.9,588.9 L741.1,588.4 L744.3,588.0 L747.5,587.7 L750.6,587.4 L753.8,587.3 L757.0,587.3 L760.1,587.3 L763.3,587.4 L766.4,587.6 L769.5,587.8 L772.5,588.1 L775.6,588.5 L778.6,588.9 L781.6,589.3 L784.6,589.8 L787.5,590.4 L790.5,590.9 L793.4,591.5 L796.3,592.2 L799.2,592.8 L802.1,593.5 L804.9,594.2 L807.8,595.0 L810.7,595.7 L813.5,596.5 L816.3,597.4 L819.2,598.2 L822.0,599.2 L824.8,600.1 L827.7,601.1 L830.5,602.1 L833.3,603.2 L836.1,604.4 L838.9,605.6 L841.6,606.9 L844.4,608.3 L847.1,609.7 L849.8,611.2 L852.4,612.8 L855.0,614.5 L857.6,616.3 L860.0,618.1 L862.5,620.1 L864.8,622.1 L867.1,624.2 L869.4,626.4 L871.5,628.7 L873.5,631.1 L875.5,633.5 L877.3,636.1 L879.1,638.7 L880.8,641.3 L882.3,644.0 L883.8,646.8 L885.2,649.6 L886.4,652.5 L887.6,655.4 L888.7,658.3 L889.7,661.3 L890.6,664.3 L891.4,667.3 L892.2,670.3 L892.8,673.3 L893.4,676.4 L893.9,679.4 L894.3,682.5 L894.6,685.6 L894.9,688.6 L895.1,691.7 L895.3,694.7 L895.4,697.8 L895.4,700.9Z" fill="none" stroke="#000000" stroke-width="4.0" stroke-linejoin="round"/>
<rect x="585.50" y="513.70" width="387.20" height="381.10" fill="none" stroke="#000" stroke-width="3.3"/>
<path d="M585.50,894.80V900.00M585.50,894.80H580.30M633.90,894.80V897.20M585.50,847.16H583.10M682.30,894.80V900.00M585.50,799.52H580.30M730.70,894.80V897.20M585.50,751.89H583.10M779.10,894.80V900.00M585.50,704.25H580.30M827.50,894.80V897.20M585.50,656.61H583.10M875.90,894.80V900.00M585.50,608.98H580.30M924.30,894.80V897.20M585.50,561.34H583.10M972.70,894.80V900.00M585.50,513.70H580.30" stroke="#000" stroke-width="3.3" stroke-linecap="round" fill="none"/>
<text transform="translate(555.34,924.20) scale(0.921,1)" x="0.00 9.47 23.69 37.92 52.14" y="0" font-size="29.6">-1500</text>
<text transform="translate(514.74,902.50) scale(0.921,1)" x="0.00 9.47 23.69 37.92 52.14" y="0" font-size="29.6">-1500</text>
<text transform="translate(658.69,924.20) scale(0.921,1)" x="0.00 9.47 23.69 37.92" y="0" font-size="29.6">-750</text>
<text transform="translate(527.84,807.23) scale(0.921,1)" x="0.00 9.47 23.69 37.92" y="0" font-size="29.6">-750</text>
<text transform="translate(772.88,924.20) scale(0.921,1)" x="0.00" y="0" font-size="29.6">0</text>
<text transform="translate(562.76,711.95) scale(0.921,1)" x="0.00" y="0" font-size="29.6">0</text>
<text transform="translate(856.25,924.20) scale(0.921,1)" x="0.00 14.22 28.44" y="0" font-size="29.6">750</text>
<text transform="translate(536.56,616.68) scale(0.921,1)" x="0.00 14.22 28.44" y="0" font-size="29.6">750</text>
<text transform="translate(946.16,924.20) scale(0.921,1)" x="0.00 14.22 28.44 42.66" y="0" font-size="29.6">1500</text>
<text transform="translate(523.47,521.40) scale(0.921,1)" x="0.00 14.22 28.44 42.66" y="0" font-size="29.6">1500</text>
<text transform="translate(716.46,958.00) scale(0.96,1)" x="0.00 16.45 32.89" y="0" font-size="35.2">111</text>
<text transform="translate(773.19,958.00) scale(0.96,1)" x="0.00 16.45 25.58 40.18 56.62" y="0" font-size="35.2">plane</text>
<text transform="translate(586.77,544.00) scale(1.0034957527187056,1)" x="0.00 12.10 30.28" y="0" font-size="38.3">(d)</text>
<path d="M431.8,1196.6 L430.9,1200.4 L429.9,1204.2 L429.0,1208.0 L428.1,1211.7 L427.2,1215.4 L426.4,1219.1 L425.7,1222.8 L424.9,1226.5 L424.3,1230.2 L423.6,1234.0 L423.0,1237.7 L422.5,1241.6 L422.0,1245.4 L421.5,1249.3 L421.1,1253.3 L420.6,1257.4 L420.2,1261.5 L419.7,1265.7 L419.2,1269.9 L418.7,1274.3 L418.0,1278.6 L417.3,1283.1 L416.5,1287.6 L415.6,1292.1 L414.5,1296.6 L413.3,1301.1 L411.8,1305.6 L410.2,1310.1 L408.4,1314.5 L406.4,1318.8 L404.2,1323.1 L401.7,1327.1 L399.0,1331.1 L396.1,1334.8 L393.0,1338.4 L389.6,1341.8 L386.1,1344.9 L382.3,1347.8 L378.4,1350.4 L374.3,1352.7 L370.0,1354.7 L365.6,1356.5 L361.1,1358.0 L356.5,1359.2 L351.9,1360.1 L347.2,1360.7 L342.4,1361.1 L337.7,1361.3 L332.9,1361.2 L328.2,1360.9 L323.5,1360.4 L318.8,1359.8 L314.3,1359.0 L309.7,1358.1 L305.3,1357.1 L300.9,1356.1 L296.6,1355.0 L292.4,1353.8 L288.3,1352.7 L284.2,1351.6 L280.1,1350.5 L276.2,1349.5 L272.2,1348.5 L268.3,1347.5 L264.4,1346.6 L260.5,1345.8 L256.7,1345.0 L252.8,1344.3 L248.9,1343.6 L244.9,1343.0 L241.0,1342.5 L236.9,1341.9 L232.9,1341.4 L228.8,1340.9 L224.6,1340.4 L220.4,1339.9 L216.1,1339.3 L211.7,1338.7 L207.4,1338.1 L202.9,1337.3 L198.5,1336.4 L194.0,1335.5 L189.5,1334.3 L185.0,1333.1 L180.6,1331.6 L176.2,1330.0 L171.8,1328.1 L167.6,1326.0 L163.5,1323.8 L159.5,1321.3 L155.7,1318.5 L152.1,1315.6 L148.6,1312.4 L145.4,1308.9 L142.5,1305.3 L139.8,1301.5 L137.3,1297.5 L135.2,1293.4 L133.3,1289.1 L131.7,1284.6 L130.3,1280.1 L129.2,1275.5 L128.4,1270.9 L127.8,1266.2 L127.4,1261.5 L127.3,1256.8 L127.3,1252.2 L127.5,1247.5 L127.8,1242.9 L128.3,1238.4 L128.8,1233.9 L129.5,1229.5 L130.2,1225.1 L131.0,1220.8 L131.9,1216.6 L132.8,1212.5 L133.7,1208.4 L134.7,1204.4 L135.6,1200.5 L136.6,1196.6 L137.5,1192.8 L138.5,1189.0 L139.4,1185.2 L140.3,1181.5 L141.2,1177.8 L142.1,1174.1 L142.9,1170.4 L143.7,1166.7 L144.4,1163.1 L145.1,1159.3 L145.8,1155.6 L146.4,1151.8 L146.9,1148.0 L147.5,1144.1 L148.0,1140.2 L148.4,1136.2 L148.9,1132.1 L149.4,1127.9 L149.8,1123.7 L150.4,1119.3 L150.9,1114.9 L151.6,1110.5 L152.3,1106.0 L153.1,1101.4 L154.1,1096.8 L155.2,1092.2 L156.6,1087.6 L158.0,1083.0 L159.8,1078.5 L161.7,1074.1 L163.8,1069.8 L166.2,1065.6 L168.8,1061.6 L171.7,1057.7 L174.8,1054.1 L178.2,1050.7 L181.7,1047.5 L185.5,1044.6 L189.4,1042.0 L193.6,1039.7 L197.9,1037.7 L202.3,1036.0 L206.9,1034.6 L211.5,1033.4 L216.2,1032.6 L221.0,1032.0 L225.8,1031.7 L230.6,1031.6 L235.3,1031.8 L240.1,1032.1 L244.8,1032.6 L249.4,1033.3 L254.0,1034.1 L258.6,1035.0 L263.0,1036.0 L267.4,1037.0 L271.7,1038.1 L275.9,1039.2 L280.1,1040.3 L284.2,1041.4 L288.2,1042.5 L292.2,1043.5 L296.1,1044.5 L300.0,1045.5 L303.9,1046.4 L307.8,1047.3 L311.7,1048.1 L315.6,1048.9 L319.5,1049.6 L323.4,1050.3 L327.3,1050.9 L331.3,1051.5 L335.3,1052.1 L339.4,1052.6 L343.6,1053.2 L347.8,1053.8 L352.0,1054.4 L356.3,1055.0 L360.7,1055.7 L365.1,1056.5 L369.5,1057.3 L374.0,1058.3 L378.4,1059.4 L382.9,1060.7 L387.4,1062.1 L391.8,1063.7 L396.1,1065.5 L400.3,1067.6 L404.5,1069.8 L408.5,1072.3 L412.3,1075.0 L416.0,1077.9 L419.4,1081.1 L422.7,1084.4 L425.7,1088.0 L428.4,1091.8 L430.9,1095.8 L433.1,1099.9 L435.0,1104.2 L436.7,1108.6 L438.0,1113.0 L439.2,1117.6 L440.0,1122.3 L440.7,1126.9 L441.1,1131.6 L441.3,1136.3 L441.3,1141.0 L441.1,1145.6 L440.8,1150.2 L440.3,1154.8 L439.7,1159.3 L439.1,1163.7 L438.3,1168.0 L437.5,1172.3 L436.6,1176.5 L435.7,1180.7 L434.7,1184.7 L433.8,1188.8 L432.8,1192.7Z" fill="none" stroke="#0000ff" stroke-width="4.6" stroke-linejoin="round"/>
<path d="M416.5,1196.3 L415.8,1199.8 L415.0,1203.2 L414.3,1206.6 L413.6,1210.0 L412.9,1213.3 L412.3,1216.7 L411.7,1220.0 L411.1,1223.4 L410.6,1226.7 L410.0,1230.1 L409.5,1233.5 L409.0,1237.0 L408.5,1240.5 L408.1,1244.0 L407.5,1247.5 L407.0,1251.1 L406.5,1254.8 L405.9,1258.5 L405.2,1262.2 L404.5,1265.9 L403.7,1269.7 L402.8,1273.6 L401.9,1277.4 L400.8,1281.2 L399.6,1285.1 L398.3,1288.9 L396.8,1292.7 L395.2,1296.5 L393.4,1300.2 L391.5,1303.9 L389.4,1307.4 L387.1,1310.9 L384.6,1314.3 L382.0,1317.5 L379.2,1320.5 L376.3,1323.4 L373.1,1326.1 L369.8,1328.6 L366.4,1331.0 L362.9,1333.1 L359.2,1334.9 L355.4,1336.6 L351.5,1338.0 L347.5,1339.2 L343.5,1340.1 L339.4,1340.9 L335.3,1341.4 L331.2,1341.7 L327.0,1341.9 L322.9,1341.9 L318.8,1341.7 L314.7,1341.4 L310.7,1340.9 L306.7,1340.4 L302.8,1339.7 L298.9,1339.0 L295.1,1338.2 L291.3,1337.4 L287.6,1336.6 L283.9,1335.8 L280.3,1334.9 L276.7,1334.1 L273.1,1333.3 L269.6,1332.5 L266.1,1331.8 L262.6,1331.0 L259.1,1330.3 L255.6,1329.6 L252.1,1329.0 L248.5,1328.4 L245.0,1327.8 L241.4,1327.2 L237.8,1326.6 L234.1,1326.0 L230.4,1325.4 L226.7,1324.8 L223.0,1324.1 L219.2,1323.4 L215.3,1322.6 L211.5,1321.7 L207.7,1320.8 L203.8,1319.7 L199.9,1318.5 L196.1,1317.2 L192.3,1315.7 L188.6,1314.1 L184.9,1312.3 L181.3,1310.3 L177.8,1308.1 L174.4,1305.8 L171.2,1303.3 L168.1,1300.6 L165.2,1297.7 L162.5,1294.6 L160.0,1291.4 L157.6,1288.1 L155.5,1284.6 L153.6,1280.9 L151.9,1277.2 L150.5,1273.4 L149.2,1269.4 L148.2,1265.5 L147.3,1261.5 L146.7,1257.4 L146.2,1253.4 L145.9,1249.3 L145.7,1245.3 L145.7,1241.2 L145.8,1237.2 L146.0,1233.3 L146.3,1229.4 L146.7,1225.5 L147.1,1221.7 L147.7,1217.9 L148.3,1214.2 L148.9,1210.5 L149.6,1206.9 L150.3,1203.3 L151.0,1199.8 L151.8,1196.3 L152.5,1192.9 L153.3,1189.5 L154.0,1186.1 L154.8,1182.7 L155.5,1179.4 L156.2,1176.1 L156.9,1172.8 L157.5,1169.5 L158.2,1166.1 L158.8,1162.8 L159.3,1159.4 L159.8,1156.0 L160.3,1152.6 L160.8,1149.1 L161.2,1145.5 L161.7,1141.9 L162.1,1138.2 L162.6,1134.5 L163.1,1130.7 L163.6,1126.8 L164.2,1122.9 L164.8,1119.0 L165.6,1115.0 L166.5,1111.0 L167.5,1107.0 L168.6,1102.9 L169.9,1099.0 L171.4,1095.0 L173.1,1091.2 L175.0,1087.4 L177.0,1083.7 L179.3,1080.2 L181.8,1076.8 L184.5,1073.6 L187.4,1070.5 L190.5,1067.7 L193.7,1065.1 L197.1,1062.7 L200.7,1060.5 L204.4,1058.6 L208.2,1056.9 L212.1,1055.4 L216.1,1054.2 L220.2,1053.1 L224.3,1052.3 L228.4,1051.7 L232.6,1051.3 L236.7,1051.1 L240.9,1051.0 L245.0,1051.1 L249.1,1051.3 L253.2,1051.6 L257.2,1052.1 L261.1,1052.6 L265.1,1053.2 L268.9,1053.9 L272.8,1054.7 L276.5,1055.5 L280.2,1056.3 L283.9,1057.1 L287.5,1058.0 L291.1,1058.8 L294.7,1059.7 L298.2,1060.5 L301.7,1061.3 L305.2,1062.1 L308.6,1062.9 L312.1,1063.6 L315.6,1064.3 L319.1,1065.0 L322.6,1065.6 L326.2,1066.3 L329.7,1066.9 L333.4,1067.5 L337.0,1068.1 L340.7,1068.7 L344.5,1069.4 L348.2,1070.1 L352.1,1070.8 L355.9,1071.6 L359.7,1072.6 L363.6,1073.6 L367.5,1074.7 L371.3,1076.0 L375.1,1077.5 L378.9,1079.1 L382.6,1080.8 L386.2,1082.7 L389.7,1084.9 L393.1,1087.2 L396.3,1089.6 L399.4,1092.3 L402.4,1095.1 L405.1,1098.1 L407.7,1101.3 L410.1,1104.6 L412.3,1108.1 L414.3,1111.7 L416.0,1115.3 L417.6,1119.1 L418.9,1123.0 L420.1,1126.9 L421.0,1130.9 L421.8,1134.9 L422.3,1139.0 L422.7,1143.0 L422.9,1147.1 L423.0,1151.1 L422.9,1155.2 L422.7,1159.1 L422.4,1163.1 L421.9,1167.0 L421.4,1170.8 L420.8,1174.6 L420.2,1178.4 L419.5,1182.1 L418.8,1185.7 L418.0,1189.3 L417.3,1192.8Z" fill="none" stroke="#ff0000" stroke-width="4.6" stroke-linejoin="round"/>
<path d="M394.2,1196.5 L393.8,1199.4 L393.4,1202.2 L392.9,1205.1 L392.5,1207.9 L392.1,1210.7 L391.7,1213.5 L391.3,1216.4 L390.9,1219.2 L390.4,1222.0 L390.0,1224.9 L389.6,1227.7 L389.1,1230.6 L388.7,1233.5 L388.2,1236.5 L387.7,1239.4 L387.1,1242.4 L386.6,1245.4 L385.9,1248.4 L385.2,1251.4 L384.4,1254.4 L383.6,1257.5 L382.7,1260.5 L381.7,1263.5 L380.6,1266.6 L379.4,1269.6 L378.0,1272.6 L376.6,1275.5 L375.1,1278.4 L373.4,1281.2 L371.6,1284.0 L369.7,1286.7 L367.7,1289.3 L365.5,1291.8 L363.2,1294.2 L360.9,1296.5 L358.3,1298.7 L355.7,1300.7 L353.0,1302.6 L350.2,1304.3 L347.3,1305.9 L344.3,1307.4 L341.3,1308.7 L338.2,1309.9 L335.1,1310.9 L331.9,1311.8 L328.7,1312.6 L325.5,1313.2 L322.2,1313.7 L319.0,1314.1 L315.7,1314.4 L312.5,1314.6 L309.2,1314.7 L306.0,1314.7 L302.8,1314.6 L299.6,1314.4 L296.5,1314.2 L293.4,1313.9 L290.3,1313.5 L287.2,1313.1 L284.1,1312.7 L281.1,1312.2 L278.1,1311.8 L275.1,1311.2 L272.1,1310.7 L269.2,1310.2 L266.2,1309.6 L263.3,1309.1 L260.3,1308.6 L257.3,1308.0 L254.4,1307.5 L251.4,1306.9 L248.4,1306.4 L245.4,1305.8 L242.4,1305.2 L239.3,1304.6 L236.3,1303.9 L233.2,1303.2 L230.1,1302.5 L227.0,1301.6 L223.9,1300.7 L220.9,1299.7 L217.8,1298.6 L214.8,1297.4 L211.8,1296.0 L208.9,1294.6 L206.0,1293.0 L203.2,1291.2 L200.5,1289.4 L197.9,1287.4 L195.4,1285.2 L193.0,1283.0 L190.7,1280.6 L188.6,1278.1 L186.6,1275.5 L184.7,1272.8 L183.0,1270.0 L181.4,1267.1 L179.9,1264.2 L178.6,1261.2 L177.4,1258.1 L176.3,1255.0 L175.4,1251.9 L174.6,1248.7 L173.9,1245.6 L173.3,1242.4 L172.8,1239.2 L172.5,1236.0 L172.2,1232.9 L172.0,1229.7 L171.9,1226.6 L171.9,1223.4 L172.0,1220.3 L172.1,1217.3 L172.3,1214.2 L172.5,1211.2 L172.8,1208.2 L173.1,1205.2 L173.5,1202.3 L173.8,1199.4 L174.3,1196.5 L174.7,1193.6 L175.1,1190.8 L175.6,1188.0 L176.0,1185.1 L176.4,1182.3 L176.9,1179.5 L177.3,1176.7 L177.8,1173.9 L178.2,1171.1 L178.6,1168.2 L179.1,1165.4 L179.5,1162.5 L180.0,1159.6 L180.4,1156.7 L180.9,1153.7 L181.4,1150.8 L182.0,1147.8 L182.6,1144.7 L183.2,1141.7 L183.9,1138.6 L184.7,1135.6 L185.5,1132.5 L186.5,1129.4 L187.5,1126.3 L188.7,1123.3 L189.9,1120.2 L191.3,1117.2 L192.8,1114.3 L194.5,1111.4 L196.2,1108.6 L198.1,1105.9 L200.2,1103.3 L202.3,1100.8 L204.6,1098.4 L207.1,1096.1 L209.6,1093.9 L212.3,1091.9 L215.0,1090.1 L217.8,1088.4 L220.8,1086.8 L223.8,1085.4 L226.8,1084.1 L230.0,1083.0 L233.1,1082.0 L236.3,1081.1 L239.6,1080.4 L242.8,1079.8 L246.0,1079.3 L249.3,1079.0 L252.5,1078.7 L255.8,1078.5 L259.0,1078.4 L262.2,1078.4 L265.4,1078.4 L268.6,1078.6 L271.7,1078.8 L274.9,1079.0 L278.0,1079.3 L281.1,1079.6 L284.1,1080.0 L287.2,1080.4 L290.2,1080.9 L293.2,1081.4 L296.2,1081.9 L299.1,1082.4 L302.1,1083.0 L305.1,1083.5 L308.0,1084.1 L311.0,1084.7 L313.9,1085.3 L316.9,1085.9 L319.9,1086.5 L322.8,1087.2 L325.8,1087.9 L328.8,1088.6 L331.8,1089.3 L334.9,1090.1 L337.9,1091.0 L340.9,1091.9 L344.0,1092.9 L347.0,1093.9 L350.0,1095.1 L353.0,1096.3 L355.9,1097.7 L358.8,1099.2 L361.7,1100.8 L364.4,1102.5 L367.2,1104.3 L369.8,1106.2 L372.3,1108.3 L374.8,1110.5 L377.1,1112.8 L379.3,1115.2 L381.4,1117.8 L383.3,1120.4 L385.1,1123.1 L386.8,1125.9 L388.3,1128.8 L389.8,1131.8 L391.0,1134.8 L392.1,1137.8 L393.1,1141.0 L394.0,1144.1 L394.7,1147.3 L395.3,1150.4 L395.8,1153.6 L396.2,1156.8 L396.5,1160.0 L396.6,1163.2 L396.7,1166.3 L396.7,1169.5 L396.6,1172.6 L396.5,1175.7 L396.3,1178.7 L396.0,1181.8 L395.7,1184.8 L395.4,1187.7 L395.0,1190.7 L394.6,1193.6Z" fill="none" stroke="#000000" stroke-width="4.6" stroke-linejoin="round"/>
<rect x="100.00" y="1002.90" width="368.50" height="388.00" fill="none" stroke="#000" stroke-width="3.3"/>
<path d="M100.00,1390.90V1396.60M100.00,1390.90H94.30M146.06,1390.90V1393.60M100.00,1342.40H97.30M192.12,1390.90V1396.60M100.00,1293.90H94.30M238.19,1390.90V1393.60M100.00,1245.40H97.30M284.25,1390.90V1396.60M100.00,1196.90H94.30M330.31,1390.90V1393.60M100.00,1148.40H97.30M376.38,1390.90V1396.60M100.00,1099.90H94.30M422.44,1390.90V1393.60M100.00,1051.40H97.30M468.50,1390.90V1396.60M100.00,1002.90H94.30" stroke="#000" stroke-width="3.3" stroke-linecap="round" fill="none"/>
<text transform="translate(64.82,1424.10) scale(0.94,1)" x="0.00 11.05 27.64 44.23 60.82" y="0" font-size="33.5">-1500</text>
<text transform="translate(18.94,1399.90) scale(0.94,1)" x="0.00 11.05 27.64 44.23 60.82" y="0" font-size="33.5">-1500</text>
<text transform="translate(164.74,1424.10) scale(0.94,1)" x="0.00 11.05 27.64 44.23" y="0" font-size="33.5">-750</text>
<text transform="translate(34.54,1302.90) scale(0.94,1)" x="0.00 11.05 27.64 44.23" y="0" font-size="33.5">-750</text>
<text transform="translate(277.58,1424.10) scale(0.94,1)" x="0.00" y="0" font-size="33.5">0</text>
<text transform="translate(76.11,1205.90) scale(0.94,1)" x="0.00" y="0" font-size="33.5">0</text>
<text transform="translate(353.71,1424.10) scale(0.94,1)" x="0.00 16.59 33.18" y="0" font-size="33.5">750</text>
<text transform="translate(44.93,1108.90) scale(0.94,1)" x="0.00 16.59 33.18" y="0" font-size="33.5">750</text>
<text transform="translate(437.65,1424.10) scale(0.94,1)" x="0.00 16.59 33.18 49.77" y="0" font-size="33.5">1500</text>
<text transform="translate(29.33,1011.90) scale(0.94,1)" x="0.00 16.59 33.18 49.77" y="0" font-size="33.5">1500</text>
<text transform="translate(218.71,1455.50) scale(0.96,1)" x="0.00 15.70 31.40" y="0" font-size="33.6">001</text>
<text transform="translate(274.69,1455.50) scale(0.96,1)" x="0.00 15.70 24.42 38.35 54.05" y="0" font-size="33.6">plane</text>
<text transform="translate(101.51,1029.00) scale(0.9808681447307401,1)" x="0.00 12.10 28.24" y="0" font-size="38.3">(e)</text>
<path d="M928.2,1196.1 L928.6,1200.2 L928.8,1204.3 L929.0,1208.5 L929.0,1212.7 L929.0,1216.8 L928.8,1221.0 L928.5,1225.2 L928.0,1229.4 L927.4,1233.5 L926.6,1237.7 L925.7,1241.8 L924.6,1245.9 L923.4,1249.9 L922.1,1253.9 L920.6,1257.9 L918.9,1261.7 L917.2,1265.6 L915.3,1269.4 L913.2,1273.1 L911.1,1276.7 L908.8,1280.3 L906.4,1283.8 L904.0,1287.2 L901.4,1290.5 L898.7,1293.7 L895.9,1296.8 L893.0,1299.9 L890.0,1302.8 L886.9,1305.6 L883.7,1308.4 L880.5,1311.0 L877.1,1313.5 L873.7,1315.8 L870.2,1318.1 L866.7,1320.2 L863.1,1322.3 L859.5,1324.2 L855.8,1326.0 L852.1,1327.7 L848.4,1329.3 L844.7,1330.9 L840.9,1332.4 L837.1,1333.8 L833.4,1335.2 L829.6,1336.5 L825.8,1337.7 L822.1,1339.0 L818.3,1340.2 L814.5,1341.4 L810.7,1342.5 L806.9,1343.6 L803.1,1344.7 L799.2,1345.8 L795.3,1346.8 L791.4,1347.7 L787.5,1348.6 L783.5,1349.5 L779.5,1350.3 L775.5,1351.0 L771.5,1351.7 L767.4,1352.2 L763.3,1352.7 L759.1,1353.2 L754.9,1353.5 L750.7,1353.7 L746.5,1353.9 L742.2,1353.9 L737.9,1353.8 L733.6,1353.7 L729.3,1353.4 L725.0,1353.0 L720.7,1352.4 L716.3,1351.8 L712.0,1351.0 L707.7,1350.0 L703.4,1348.9 L699.2,1347.6 L695.0,1346.1 L690.9,1344.4 L686.9,1342.6 L682.9,1340.6 L679.1,1338.4 L675.3,1336.0 L671.7,1333.4 L668.2,1330.7 L664.9,1327.7 L661.7,1324.7 L658.6,1321.5 L655.7,1318.1 L652.9,1314.6 L650.3,1311.1 L647.8,1307.4 L645.5,1303.7 L643.3,1299.9 L641.2,1296.0 L639.3,1292.2 L637.4,1288.2 L635.7,1284.3 L634.0,1280.3 L632.5,1276.3 L631.0,1272.3 L629.7,1268.3 L628.4,1264.3 L627.2,1260.3 L626.0,1256.3 L624.9,1252.3 L623.9,1248.3 L623.0,1244.3 L622.1,1240.3 L621.2,1236.3 L620.5,1232.3 L619.7,1228.3 L619.0,1224.3 L618.4,1220.3 L617.8,1216.3 L617.2,1212.3 L616.7,1208.3 L616.2,1204.2 L615.8,1200.2 L615.4,1196.1 L615.0,1192.0 L614.8,1187.9 L614.6,1183.7 L614.4,1179.6 L614.4,1175.4 L614.5,1171.2 L614.7,1167.0 L615.0,1162.8 L615.4,1158.6 L616.0,1154.4 L616.8,1150.3 L617.7,1146.1 L618.8,1142.0 L620.1,1138.0 L621.5,1134.0 L623.1,1130.1 L624.9,1126.2 L626.8,1122.4 L628.9,1118.7 L631.2,1115.1 L633.5,1111.6 L636.0,1108.1 L638.6,1104.8 L641.3,1101.6 L644.1,1098.4 L647.0,1095.3 L650.0,1092.4 L653.1,1089.5 L656.2,1086.7 L659.4,1084.0 L662.7,1081.4 L666.0,1078.9 L669.3,1076.5 L672.8,1074.2 L676.2,1072.0 L679.8,1069.9 L683.3,1067.9 L686.9,1066.0 L690.6,1064.1 L694.3,1062.4 L698.0,1060.8 L701.7,1059.3 L705.5,1057.8 L709.3,1056.4 L713.1,1055.2 L716.9,1053.9 L720.7,1052.8 L724.5,1051.7 L728.4,1050.7 L732.2,1049.6 L736.1,1048.7 L739.9,1047.7 L743.8,1046.8 L747.7,1046.0 L751.6,1045.1 L755.5,1044.3 L759.5,1043.5 L763.4,1042.7 L767.4,1042.0 L771.5,1041.3 L775.5,1040.7 L779.6,1040.1 L783.8,1039.6 L788.0,1039.2 L792.2,1038.9 L796.4,1038.7 L800.7,1038.5 L805.0,1038.5 L809.3,1038.6 L813.6,1038.9 L817.9,1039.3 L822.2,1039.8 L826.6,1040.5 L830.9,1041.3 L835.1,1042.3 L839.4,1043.5 L843.6,1044.9 L847.8,1046.4 L851.8,1048.1 L855.9,1049.9 L859.8,1051.9 L863.7,1054.1 L867.4,1056.5 L871.0,1059.0 L874.6,1061.7 L878.0,1064.6 L881.2,1067.6 L884.4,1070.7 L887.4,1074.0 L890.2,1077.3 L892.9,1080.8 L895.5,1084.4 L897.9,1088.1 L900.1,1091.9 L902.3,1095.7 L904.2,1099.6 L906.1,1103.6 L907.8,1107.5 L909.4,1111.6 L910.9,1115.6 L912.3,1119.6 L913.6,1123.7 L914.8,1127.7 L915.9,1131.8 L917.0,1135.8 L918.0,1139.8 L919.0,1143.9 L919.9,1147.9 L920.8,1151.9 L921.6,1155.9 L922.4,1159.9 L923.2,1163.8 L924.0,1167.8 L924.7,1171.8 L925.4,1175.8 L926.1,1179.8 L926.7,1183.9 L927.3,1187.9 L927.8,1192.0Z" fill="none" stroke="#0000ff" stroke-width="4.6" stroke-linejoin="round"/>
<path d="M915.1,1196.1 L915.3,1199.9 L915.5,1203.7 L915.5,1207.5 L915.5,1211.3 L915.3,1215.1 L915.1,1218.9 L914.8,1222.7 L914.3,1226.5 L913.8,1230.3 L913.2,1234.1 L912.4,1237.9 L911.5,1241.6 L910.5,1245.4 L909.4,1249.1 L908.1,1252.7 L906.7,1256.3 L905.2,1259.9 L903.5,1263.4 L901.7,1266.8 L899.8,1270.2 L897.7,1273.4 L895.4,1276.6 L893.1,1279.7 L890.6,1282.7 L888.0,1285.5 L885.3,1288.3 L882.5,1291.0 L879.7,1293.5 L876.7,1296.0 L873.6,1298.3 L870.5,1300.5 L867.4,1302.6 L864.2,1304.7 L860.9,1306.6 L857.7,1308.4 L854.4,1310.2 L851.0,1311.9 L847.7,1313.5 L844.4,1315.0 L841.0,1316.5 L837.6,1317.9 L834.2,1319.2 L830.8,1320.5 L827.4,1321.8 L824.0,1323.0 L820.6,1324.1 L817.2,1325.2 L813.8,1326.3 L810.3,1327.3 L806.9,1328.2 L803.4,1329.1 L799.9,1330.0 L796.5,1330.9 L793.0,1331.7 L789.4,1332.4 L785.9,1333.1 L782.3,1333.8 L778.7,1334.4 L775.1,1335.0 L771.5,1335.5 L767.8,1336.0 L764.1,1336.4 L760.4,1336.7 L756.7,1337.0 L752.9,1337.1 L749.1,1337.3 L745.3,1337.3 L741.5,1337.2 L737.6,1337.1 L733.8,1336.8 L729.9,1336.5 L726.0,1336.0 L722.1,1335.4 L718.3,1334.7 L714.4,1333.9 L710.6,1332.9 L706.7,1331.8 L703.0,1330.6 L699.2,1329.2 L695.5,1327.6 L691.9,1325.9 L688.4,1324.1 L684.9,1322.0 L681.6,1319.9 L678.3,1317.5 L675.2,1315.0 L672.2,1312.4 L669.3,1309.6 L666.6,1306.7 L664.0,1303.6 L661.5,1300.5 L659.2,1297.3 L657.0,1293.9 L654.9,1290.5 L653.0,1287.1 L651.1,1283.5 L649.4,1280.0 L647.8,1276.4 L646.3,1272.8 L644.9,1269.2 L643.6,1265.6 L642.3,1261.9 L641.1,1258.3 L639.9,1254.7 L638.8,1251.1 L637.8,1247.4 L636.8,1243.8 L635.8,1240.2 L634.9,1236.6 L634.0,1232.9 L633.2,1229.3 L632.4,1225.7 L631.7,1222.0 L631.0,1218.4 L630.4,1214.7 L629.8,1211.0 L629.3,1207.3 L628.8,1203.6 L628.4,1199.9 L628.1,1196.1 L627.9,1192.4 L627.7,1188.6 L627.6,1184.8 L627.6,1181.0 L627.7,1177.2 L627.9,1173.4 L628.2,1169.6 L628.5,1165.7 L629.0,1161.9 L629.7,1158.1 L630.4,1154.3 L631.3,1150.6 L632.3,1146.8 L633.4,1143.1 L634.7,1139.5 L636.1,1135.8 L637.7,1132.3 L639.4,1128.8 L641.2,1125.4 L643.2,1122.0 L645.3,1118.8 L647.5,1115.6 L649.9,1112.5 L652.3,1109.6 L654.9,1106.7 L657.6,1103.9 L660.3,1101.2 L663.2,1098.6 L666.1,1096.1 L669.1,1093.7 L672.1,1091.4 L675.2,1089.2 L678.4,1087.1 L681.6,1085.1 L684.8,1083.2 L688.1,1081.3 L691.4,1079.6 L694.7,1078.0 L698.1,1076.4 L701.5,1074.9 L704.9,1073.5 L708.3,1072.2 L711.8,1071.0 L715.2,1069.8 L718.7,1068.7 L722.2,1067.7 L725.6,1066.7 L729.1,1065.7 L732.6,1064.9 L736.1,1064.0 L739.6,1063.2 L743.1,1062.4 L746.6,1061.7 L750.1,1061.0 L753.6,1060.3 L757.1,1059.6 L760.7,1059.0 L764.3,1058.4 L767.9,1057.9 L771.5,1057.3 L775.1,1056.9 L778.8,1056.4 L782.5,1056.1 L786.2,1055.8 L790.0,1055.6 L793.8,1055.5 L797.6,1055.4 L801.4,1055.5 L805.2,1055.6 L809.1,1055.9 L812.9,1056.3 L816.8,1056.7 L820.6,1057.3 L824.5,1058.1 L828.3,1058.9 L832.1,1059.9 L835.9,1061.0 L839.7,1062.3 L843.4,1063.6 L847.1,1065.2 L850.7,1066.9 L854.2,1068.7 L857.7,1070.6 L861.1,1072.8 L864.4,1075.0 L867.6,1077.4 L870.7,1080.0 L873.6,1082.7 L876.4,1085.5 L879.1,1088.5 L881.7,1091.6 L884.1,1094.7 L886.3,1098.0 L888.5,1101.4 L890.5,1104.8 L892.3,1108.3 L894.1,1111.9 L895.7,1115.5 L897.2,1119.1 L898.6,1122.7 L900.0,1126.4 L901.2,1130.0 L902.4,1133.7 L903.5,1137.3 L904.6,1141.0 L905.6,1144.6 L906.6,1148.3 L907.6,1151.9 L908.5,1155.5 L909.3,1159.2 L910.2,1162.8 L910.9,1166.5 L911.7,1170.1 L912.3,1173.8 L913.0,1177.5 L913.5,1181.2 L914.0,1184.9 L914.5,1188.6 L914.8,1192.4Z" fill="none" stroke="#ff0000" stroke-width="4.6" stroke-linejoin="round"/>
<path d="M893.5,1196.4 L893.6,1199.6 L893.6,1202.8 L893.6,1206.1 L893.5,1209.3 L893.3,1212.5 L893.0,1215.7 L892.7,1218.9 L892.2,1222.1 L891.7,1225.3 L891.1,1228.5 L890.4,1231.7 L889.6,1234.9 L888.7,1238.0 L887.7,1241.1 L886.5,1244.2 L885.3,1247.2 L883.9,1250.1 L882.4,1253.0 L880.8,1255.9 L879.1,1258.7 L877.3,1261.4 L875.4,1264.0 L873.3,1266.6 L871.2,1269.0 L869.0,1271.4 L866.7,1273.7 L864.4,1275.9 L862.0,1278.1 L859.5,1280.1 L857.0,1282.1 L854.4,1284.0 L851.8,1285.8 L849.1,1287.5 L846.4,1289.2 L843.7,1290.8 L840.9,1292.3 L838.2,1293.7 L835.4,1295.1 L832.6,1296.4 L829.8,1297.7 L826.9,1298.9 L824.1,1300.0 L821.2,1301.1 L818.4,1302.1 L815.5,1303.1 L812.6,1304.0 L809.7,1304.9 L806.8,1305.8 L803.9,1306.6 L801.0,1307.3 L798.1,1308.0 L795.2,1308.7 L792.2,1309.3 L789.3,1309.9 L786.3,1310.5 L783.4,1311.0 L780.4,1311.5 L777.4,1311.9 L774.3,1312.2 L771.3,1312.6 L768.3,1312.8 L765.2,1313.0 L762.1,1313.1 L759.0,1313.2 L755.9,1313.2 L752.8,1313.1 L749.7,1313.0 L746.6,1312.7 L743.5,1312.4 L740.3,1312.0 L737.2,1311.6 L734.1,1311.0 L731.0,1310.4 L727.9,1309.6 L724.8,1308.8 L721.7,1307.9 L718.6,1306.9 L715.6,1305.8 L712.6,1304.6 L709.6,1303.3 L706.7,1301.9 L703.8,1300.4 L701.0,1298.8 L698.2,1297.1 L695.5,1295.3 L692.8,1293.3 L690.3,1291.3 L687.8,1289.2 L685.4,1287.0 L683.1,1284.7 L680.9,1282.3 L678.7,1279.8 L676.7,1277.2 L674.8,1274.6 L672.9,1271.9 L671.1,1269.2 L669.5,1266.4 L667.9,1263.6 L666.4,1260.7 L664.9,1257.9 L663.6,1254.9 L662.3,1252.0 L661.1,1249.0 L659.9,1246.0 L658.8,1243.0 L657.8,1240.0 L656.8,1237.0 L655.9,1233.9 L655.1,1230.9 L654.3,1227.8 L653.6,1224.7 L652.9,1221.6 L652.3,1218.5 L651.8,1215.4 L651.3,1212.2 L650.9,1209.1 L650.5,1205.9 L650.3,1202.8 L650.0,1199.6 L649.9,1196.4 L649.8,1193.3 L649.8,1190.1 L649.8,1186.9 L649.9,1183.7 L650.1,1180.5 L650.4,1177.3 L650.7,1174.1 L651.1,1170.9 L651.6,1167.7 L652.2,1164.5 L652.8,1161.3 L653.6,1158.2 L654.4,1155.0 L655.4,1151.9 L656.4,1148.8 L657.6,1145.8 L658.9,1142.8 L660.2,1139.8 L661.7,1136.9 L663.3,1134.1 L665.1,1131.3 L666.9,1128.6 L668.8,1126.0 L670.9,1123.5 L673.0,1121.0 L675.3,1118.7 L677.6,1116.4 L680.0,1114.2 L682.5,1112.1 L685.0,1110.1 L687.6,1108.2 L690.3,1106.4 L693.0,1104.7 L695.7,1103.1 L698.5,1101.6 L701.3,1100.1 L704.2,1098.7 L707.0,1097.4 L709.9,1096.2 L712.7,1095.0 L715.6,1093.9 L718.5,1092.8 L721.4,1091.8 L724.3,1090.8 L727.2,1089.9 L730.1,1089.0 L733.0,1088.1 L735.9,1087.3 L738.8,1086.5 L741.7,1085.7 L744.6,1085.0 L747.5,1084.3 L750.4,1083.7 L753.4,1083.1 L756.3,1082.5 L759.3,1082.0 L762.3,1081.5 L765.3,1081.1 L768.3,1080.7 L771.3,1080.4 L774.4,1080.1 L777.4,1079.9 L780.5,1079.8 L783.6,1079.7 L786.7,1079.7 L789.8,1079.8 L792.9,1079.9 L796.0,1080.2 L799.2,1080.5 L802.3,1080.8 L805.4,1081.3 L808.5,1081.9 L811.7,1082.5 L814.8,1083.2 L817.9,1084.0 L820.9,1085.0 L824.0,1086.0 L827.0,1087.1 L830.0,1088.3 L833.0,1089.6 L835.9,1091.0 L838.8,1092.6 L841.6,1094.2 L844.3,1096.0 L847.0,1097.8 L849.6,1099.8 L852.1,1101.8 L854.6,1104.0 L856.9,1106.2 L859.2,1108.6 L861.4,1111.0 L863.5,1113.5 L865.5,1116.0 L867.4,1118.6 L869.2,1121.3 L871.0,1124.0 L872.7,1126.8 L874.3,1129.6 L875.8,1132.4 L877.3,1135.2 L878.7,1138.1 L880.1,1141.0 L881.4,1144.0 L882.6,1146.9 L883.7,1149.9 L884.8,1152.9 L885.9,1155.9 L886.9,1158.9 L887.8,1161.9 L888.6,1165.0 L889.4,1168.1 L890.2,1171.2 L890.8,1174.3 L891.4,1177.4 L891.9,1180.6 L892.4,1183.7 L892.7,1186.9 L893.1,1190.1 L893.3,1193.2Z" fill="none" stroke="#000000" stroke-width="4.6" stroke-linejoin="round"/>
<rect x="569.10" y="1002.60" width="404.40" height="388.70" fill="none" stroke="#000" stroke-width="3.3"/>
<path d="M569.10,1391.30V1397.00M569.10,1391.30H563.40M619.65,1391.30V1394.00M569.10,1342.71H566.40M670.20,1391.30V1397.00M569.10,1294.12H563.40M720.75,1391.30V1394.00M569.10,1245.54H566.40M771.30,1391.30V1397.00M569.10,1196.95H563.40M821.85,1391.30V1394.00M569.10,1148.36H566.40M872.40,1391.30V1397.00M569.10,1099.78H563.40M922.95,1391.30V1394.00M569.10,1051.19H566.40M973.50,1391.30V1397.00M569.10,1002.60H563.40" stroke="#000" stroke-width="3.3" stroke-linecap="round" fill="none"/>
<text transform="translate(534.32,1426.10) scale(0.94,1)" x="0.00 11.05 27.64 44.23 60.82" y="0" font-size="33.5">-1500</text>
<text transform="translate(486.14,1400.60) scale(0.94,1)" x="0.00 11.05 27.64 44.23 60.82" y="0" font-size="33.5">-1500</text>
<text transform="translate(643.22,1426.10) scale(0.94,1)" x="0.00 11.05 27.64 44.23" y="0" font-size="33.5">-750</text>
<text transform="translate(501.74,1303.42) scale(0.94,1)" x="0.00 11.05 27.64 44.23" y="0" font-size="33.5">-750</text>
<text transform="translate(765.03,1426.10) scale(0.94,1)" x="0.00" y="0" font-size="33.5">0</text>
<text transform="translate(543.31,1206.25) scale(0.94,1)" x="0.00" y="0" font-size="33.5">0</text>
<text transform="translate(850.14,1426.10) scale(0.94,1)" x="0.00 16.59 33.18" y="0" font-size="33.5">750</text>
<text transform="translate(512.13,1109.08) scale(0.94,1)" x="0.00 16.59 33.18" y="0" font-size="33.5">750</text>
<text transform="translate(943.05,1426.10) scale(0.94,1)" x="0.00 16.59 33.18 49.77" y="0" font-size="33.5">1500</text>
<text transform="translate(496.53,1011.90) scale(0.94,1)" x="0.00 16.59 33.18 49.77" y="0" font-size="33.5">1500</text>
<text transform="translate(710.50,1454.70) scale(0.96,1)" x="0.00 15.70 31.40" y="0" font-size="33.6">101</text>
<text transform="translate(766.29,1454.70) scale(0.96,1)" x="0.00 15.70 24.42 38.35 54.05" y="0" font-size="33.6">plane</text>
<text transform="translate(569.58,1033.40) scale(1.1698765169103469,1)" x="0.00 12.10 24.21" y="0" font-size="38.3">(f)</text>
<rect x="252.3" y="1427.3" width="8.3" height="2.5" fill="#000"/>
</svg></body></html>
